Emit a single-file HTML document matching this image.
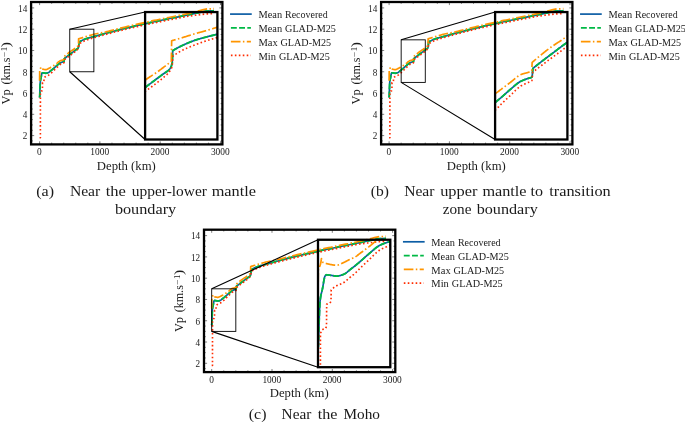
<!DOCTYPE html>
<html lang="en">
<head>
<meta charset="utf-8">
<title>Vp depth profiles</title>
<style>
html,body{margin:0;padding:0;background:#fff;}
body{width:685px;height:422px;overflow:hidden;}
svg{display:block;}
svg text{font-family:'Liberation Serif','DejaVu Serif',serif;fill:#1a1a1a;}
</style>
</head>
<body>
<svg width="685" height="422" viewBox="0 0 685 422">
<rect width="685" height="422" fill="#fff"/>
<g transform="translate(0 0)">
<clipPath id="ca0"><rect x="31.1" y="2" width="191.3" height="142.4"/></clipPath>
<g clip-path="url(#ca0)">
<path d="M39.6 97.51 L39.78 95.7 L39.9 90.91 L39.96 89.07 L40.26 81.87 L40.32 81.37 L40.68 79.2 L41.04 77.74 L41.11 77.4 L41.4 75.72 L41.75 73.79 L41.95 73.25 L42.11 73.06 L42.47 72.82 L42.49 72.82 L42.83 72.84 L43.19 72.89 L43.55 72.95 L43.91 73.01 L44.12 73.04 L44.27 73.06 L44.63 73.11 L44.99 73.17 L45.35 73.22 L45.71 73.25 L45.81 73.25 L46.06 73.24 L46.42 73.19 L46.78 73.12 L47.14 73.02 L47.5 72.91 L47.86 72.78 L48.04 72.72 L48.22 72.65 L48.58 72.46 L48.94 72.22 L49.3 71.95 L49.66 71.65 L50.02 71.35 L50.37 71.05 L50.73 70.76 L50.82 70.7 L51.09 70.49 L51.45 70.22 L51.66 70.06 L51.81 69.94 L52.17 69.65 L52.53 69.36 L52.89 69.06 L53.25 68.75 L53.59 68.46 L53.61 68.45 L53.97 68.14 L54.32 67.82 L54.68 67.5 L55.04 67.17 L55.4 66.85 L55.76 66.53 L56.12 66.21 L56.48 65.9 L56.73 65.7 L56.84 65.6 L57.2 65.29 L57.56 64.98 L57.92 64.66 L58.28 64.35 L58.63 64.05 L58.99 63.77 L59.35 63.5 L59.71 63.26 L60.07 63.05 L60.1 63.04 L60.43 62.87 L60.79 62.71 L61.15 62.55 L61.51 62.41 L61.87 62.28 L62.23 62.15 L62.58 62.03 L62.76 61.97 L62.94 61.91 L63.3 61.82 L63.66 61.71 L63.78 61.65 L64.02 61.44 L64.26 58.67 L64.62 58.38 L64.97 58.1 L65.33 57.81 L65.68 57.53 L66.03 57.25 L66.39 56.97 L66.74 56.69 L66.8 56.65 L67.1 56.42 L67.45 56.14 L67.81 55.88 L68.16 55.61 L68.52 55.34 L68.87 55.08 L69.22 54.81 L69.58 54.54 L69.93 54.28 L70.17 54.1 L70.29 54.01 L70.64 53.74 L71 53.47 L71.35 53.2 L71.71 52.94 L72.06 52.67 L72.41 52.4 L72.77 52.13 L73.12 51.86 L73.48 51.6 L73.55 51.54 L73.83 51.33 L74.19 51.07 L74.54 50.81 L74.9 50.55 L75.25 50.28 L75.54 50.05 L75.6 50 L75.96 49.75 L76.31 49.53 L76.67 49.31 L77.02 49.07 L77.38 48.8 L77.73 48.46 L78.09 48.04 L78.31 47.71 L78.44 47.43 L78.8 46.22 L78.98 42.07 L79.34 41.86 L79.7 41.65 L80.06 41.45 L80.42 41.25 L80.78 41.06 L81.15 40.87 L81.51 40.68 L81.87 40.51 L81.93 40.48 L82.23 40.34 L82.59 40.17 L82.96 40 L83.32 39.84 L83.68 39.68 L84.04 39.52 L84.4 39.37 L84.76 39.22 L85.13 39.08 L85.49 38.94 L85.85 38.81 L86.21 38.68 L86.39 38.62 L86.57 38.56 L86.94 38.44 L87.3 38.32 L87.66 38.22 L88.02 38.11 L88.38 38.01 L88.74 37.91 L89.11 37.81 L89.47 37.71 L89.83 37.61 L90.19 37.52 L90.25 37.5 L90.55 37.42 L90.92 37.33 L91.28 37.24 L91.64 37.15 L92 37.06 L92.36 36.97 L92.72 36.88 L93.09 36.79 L93.45 36.7 L93.63 36.65 L93.81 36.6 L94.17 36.5 L94.53 36.4 L94.9 36.3 L95.26 36.2 L95.62 36.1 L95.98 35.99 L96.34 35.89 L96.7 35.79 L97.07 35.68 L97.43 35.58 L97.79 35.47 L98.15 35.37 L98.51 35.27 L98.87 35.17 L99.24 35.06 L99.6 34.96 L99.9 34.87 L102.31 34.19 L104.72 33.52 L107.14 32.88 L109.55 32.25 L111.96 31.61 L114.37 30.96 L116.78 30.34 L119.2 29.74 L121.61 29.15 L124.02 28.55 L126.43 27.95 L128.84 27.37 L131.26 26.81 L133.67 26.27 L136.08 25.71 L138.49 25.15 L140.9 24.61 L143.32 24.11 L145.73 23.6 L148.14 23.05 L150.55 22.49 L152.96 21.96 L155.38 21.49 L157.79 21.03 L160.2 20.54 L162.61 20.02 L165.02 19.51 L167.44 18.99 L169.85 18.48 L172.26 18 L174.67 17.54 L177.08 17.07 L179.5 16.55 L181.91 16.04 L184.32 15.56 L186.73 15.1 L189.14 14.62 L191.56 14.11 L193.97 13.59 L196.38 13.08 L198.79 12.57 L201.2 12.06 L203.62 11.54 L206.03 11.18 L208.44 11 L210.85 10.9 L213.26 10.75 L213.93 10.69" fill="none" stroke="#0C5DA5" stroke-width="1.7" stroke-linejoin="round"/>
<path d="M39.6 97.51 L39.78 95.7 L39.9 90.91 L39.96 89.07 L40.26 81.87 L40.32 81.37 L40.68 79.2 L41.04 77.74 L41.11 77.4 L41.4 75.72 L41.75 73.79 L41.95 73.25 L42.11 73.06 L42.47 72.82 L42.49 72.82 L42.83 72.84 L43.19 72.89 L43.55 72.95 L43.91 73.01 L44.12 73.04 L44.27 73.06 L44.63 73.11 L44.99 73.17 L45.35 73.22 L45.71 73.25 L45.81 73.25 L46.06 73.24 L46.42 73.19 L46.78 73.12 L47.14 73.02 L47.5 72.91 L47.86 72.78 L48.04 72.72 L48.22 72.65 L48.58 72.46 L48.94 72.22 L49.3 71.95 L49.66 71.65 L50.02 71.35 L50.37 71.05 L50.73 70.76 L50.82 70.7 L51.09 70.49 L51.45 70.22 L51.66 70.06 L51.81 69.94 L52.17 69.65 L52.53 69.36 L52.89 69.06 L53.25 68.75 L53.59 68.46 L53.61 68.45 L53.97 68.14 L54.32 67.82 L54.68 67.5 L55.04 67.17 L55.4 66.85 L55.76 66.53 L56.12 66.21 L56.48 65.9 L56.73 65.7 L56.84 65.6 L57.2 65.29 L57.56 64.98 L57.92 64.66 L58.28 64.35 L58.63 64.05 L58.99 63.77 L59.35 63.5 L59.71 63.26 L60.07 63.05 L60.1 63.04 L60.43 62.87 L60.79 62.71 L61.15 62.55 L61.51 62.41 L61.87 62.28 L62.23 62.15 L62.58 62.03 L62.76 61.97 L62.94 61.91 L63.3 61.82 L63.66 61.71 L63.78 61.65 L64.02 61.44 L64.26 58.67 L64.62 58.38 L64.97 58.1 L65.33 57.81 L65.68 57.53 L66.03 57.25 L66.39 56.97 L66.74 56.69 L66.8 56.65 L67.1 56.42 L67.45 56.14 L67.81 55.88 L68.16 55.61 L68.52 55.34 L68.87 55.08 L69.22 54.81 L69.58 54.54 L69.93 54.28 L70.17 54.1 L70.29 54.01 L70.64 53.74 L71 53.47 L71.35 53.2 L71.71 52.94 L72.06 52.67 L72.41 52.4 L72.77 52.13 L73.12 51.86 L73.48 51.6 L73.55 51.54 L73.83 51.33 L74.19 51.07 L74.54 50.81 L74.9 50.55 L75.25 50.28 L75.54 50.05 L75.6 50 L75.96 49.75 L76.31 49.53 L76.67 49.31 L77.02 49.07 L77.38 48.8 L77.73 48.46 L78.09 48.04 L78.31 47.71 L78.44 47.43 L78.8 46.22 L78.98 42.07 L79.34 41.86 L79.7 41.65 L80.06 41.45 L80.42 41.25 L80.78 41.06 L81.15 40.87 L81.51 40.68 L81.87 40.51 L81.93 40.48 L82.23 40.34 L82.59 40.17 L82.96 40 L83.32 39.84 L83.68 39.68 L84.04 39.52 L84.4 39.37 L84.76 39.22 L85.13 39.08 L85.49 38.94 L85.85 38.81 L86.21 38.68 L86.39 38.62 L86.57 38.56 L86.94 38.44 L87.3 38.32 L87.66 38.22 L88.02 38.11 L88.38 38.01 L88.74 37.91 L89.11 37.81 L89.47 37.71 L89.83 37.61 L90.19 37.52 L90.25 37.5 L90.55 37.42 L90.92 37.33 L91.28 37.24 L91.64 37.15 L92 37.06 L92.36 36.97 L92.72 36.88 L93.09 36.79 L93.45 36.7 L93.63 36.65 L93.81 36.6 L94.17 36.5 L94.53 36.4 L94.9 36.3 L95.26 36.2 L95.62 36.1 L95.98 35.99 L96.34 35.89 L96.7 35.79 L97.07 35.68 L97.43 35.58 L97.79 35.47 L98.15 35.37 L98.51 35.27 L98.87 35.17 L99.24 35.06 L99.6 34.96 L99.9 34.87 L102.31 34.19 L104.72 33.52 L107.14 32.88 L109.55 32.25 L111.96 31.61 L114.37 30.96 L116.78 30.34 L119.2 29.74 L121.61 29.15 L124.02 28.55 L126.43 27.95 L128.84 27.37 L131.26 26.81 L133.67 26.27 L136.08 25.71 L138.49 25.15 L140.9 24.61 L143.32 24.11 L145.73 23.6 L148.14 23.05 L150.55 22.49 L152.96 21.96 L155.38 21.49 L157.79 21.03 L160.2 20.54 L162.61 20.02 L165.02 19.51 L167.44 18.99 L169.85 18.48 L172.26 18 L174.67 17.54 L177.08 17.07 L179.5 16.55 L181.91 16.04 L184.32 15.56 L186.73 15.1 L189.14 14.62 L191.56 14.11 L193.97 13.59 L196.38 13.08 L198.79 12.57 L201.2 12.06 L203.62 11.54 L206.03 11.18 L208.44 11 L210.85 10.9 L213.26 10.75 L213.93 10.69" fill="none" stroke="#00B945" stroke-width="1.85" stroke-dasharray="5.9 2.3" stroke-linejoin="round"/>
<path d="M39.6 80.7 L39.72 70.7 L39.72 70.7 L40.06 70.29 L40.32 69.63 L40.4 69.36 L40.75 67.4 L40.75 67.4 L41.11 68.48 L41.17 68.57 L41.41 68.78 L41.47 68.81 L41.83 68.94 L42.19 69.04 L42.49 69.1 L42.55 69.11 L42.92 69.19 L43.28 69.27 L43.64 69.35 L44 69.43 L44.36 69.49 L44.73 69.55 L45.09 69.59 L45.45 69.62 L45.81 69.63 L46.17 69.59 L46.53 69.49 L46.9 69.34 L47.26 69.16 L47.62 68.98 L47.98 68.81 L48.04 68.78 L48.34 68.64 L48.71 68.47 L49.07 68.28 L49.43 68.09 L49.79 67.89 L50.15 67.71 L50.51 67.53 L50.82 67.4 L50.88 67.37 L51.24 67.24 L51.6 67.11 L51.66 67.08 L51.96 66.91 L52.32 66.67 L52.69 66.4 L53.05 66.11 L53.41 65.83 L53.59 65.7 L53.77 65.56 L54.13 65.3 L54.49 65.03 L54.86 64.76 L55.22 64.49 L55.58 64.22 L55.94 63.94 L56.3 63.67 L56.66 63.4 L56.73 63.35 L57.03 63.12 L57.39 62.83 L57.75 62.52 L58.11 62.21 L58.47 61.91 L58.84 61.62 L59.2 61.35 L59.56 61.11 L59.92 60.89 L60.1 60.8 L60.28 60.72 L60.64 60.58 L61.01 60.46 L61.37 60.36 L61.73 60.26 L62.09 60.17 L62.45 60.07 L62.82 59.95 L63.18 59.82 L63.54 59.65 L63.78 59.52 L63.9 59.42 L64.02 56.65 L64.38 56.34 L64.75 56.03 L65.11 55.72 L65.47 55.41 L65.83 55.11 L66.19 54.81 L66.55 54.51 L66.8 54.31 L66.92 54.21 L67.28 53.92 L67.64 53.62 L68 53.33 L68.36 53.04 L68.72 52.75 L69.09 52.47 L69.45 52.19 L69.75 51.97 L69.81 51.93 L70.17 51.66 L70.53 51.41 L70.9 51.16 L71.26 50.91 L71.62 50.67 L71.98 50.43 L72.22 50.27 L72.34 50.19 L72.7 49.96 L73.07 49.73 L73.43 49.5 L73.55 49.42 L73.79 49.25 L74.15 48.98 L74.51 48.71 L74.88 48.43 L75.24 48.16 L75.54 47.93 L75.6 47.88 L75.96 47.61 L76.32 47.34 L76.68 47.06 L77.05 46.79 L77.41 46.52 L77.77 46.24 L78.13 45.97 L78.49 45.69 L78.61 38.78 L78.97 38.68 L79.33 38.57 L79.69 38.47 L80.04 38.37 L80.4 38.27 L80.76 38.16 L81.12 38.06 L81.47 37.95 L81.83 37.85 L81.93 37.82 L82.19 37.74 L82.55 37.63 L82.9 37.52 L83.26 37.41 L83.62 37.3 L83.98 37.18 L84.33 37.07 L84.69 36.96 L85.05 36.84 L85.41 36.73 L85.76 36.62 L86.12 36.52 L86.39 36.44 L86.48 36.41 L86.84 36.31 L87.19 36.21 L87.55 36.11 L87.91 36.02 L88.27 35.92 L88.62 35.82 L88.98 35.73 L89.34 35.63 L89.7 35.53 L90.05 35.43 L90.25 35.37 L90.41 35.32 L90.77 35.22 L91.13 35.11 L91.48 35 L91.84 34.89 L92.2 34.77 L92.56 34.66 L92.91 34.54 L93.27 34.43 L93.63 34.31 L93.87 34.26 L96.28 33.79 L98.69 33.31 L101.11 32.81 L103.52 32.3 L105.93 31.82 L108.34 31.2 L110.75 30.59 L113.17 29.96 L115.58 29.35 L117.99 28.76 L120.4 28.17 L122.81 27.58 L125.23 26.97 L127.64 26.38 L130.05 25.81 L132.46 25.26 L134.87 24.71 L137.29 24.15 L139.7 23.6 L142.11 23.08 L144.52 22.58 L146.93 22.06 L149.35 21.49 L151.76 20.94 L154.17 20.44 L156.58 19.99 L158.99 19.51 L161.41 19.01 L163.82 18.49 L166.23 17.97 L168.64 17.46 L171.05 16.96 L173.47 16.5 L175.88 16.03 L178.29 15.53 L180.7 15.01 L183.11 14.51 L185.53 14.05 L187.94 13.59 L190.35 13.09 L192.76 12.46 L195.17 11.83 L197.59 11.21 L200 10.58 L202.41 9.93 L204.82 9.34 L207.23 8.94 L209.65 8.86 L212.06 8.78 L213.93 8.66" fill="none" stroke="#FF9500" stroke-width="1.7" stroke-dasharray="9.6 2.4 1.5 2.4" stroke-linejoin="round"/>
<path d="M39.6 137.73 L40.38 137.73 L40.41 93.04 L40.5 92.3 L40.75 91.59 L41.09 91.14 L41.11 91.12 L41.42 90.98 L41.76 90.91 L42.1 90.77 L42.19 90.7 L42.43 89.85 L42.49 82.61 L42.86 82.57 L43.22 82.45 L43.52 82.29 L43.58 82.25 L43.94 81.66 L44 77.93 L44.36 77.57 L44.71 77.24 L45.07 76.94 L45.33 76.76 L45.43 76.7 L45.78 76.5 L46.14 76.33 L46.5 76.18 L46.85 76.04 L47.21 75.9 L47.57 75.74 L47.92 75.55 L48.04 75.48 L48.28 75.33 L48.64 75.08 L48.99 74.8 L49.35 74.5 L49.7 74.19 L50.06 73.88 L50.42 73.57 L50.77 73.28 L50.82 73.25 L51.13 73.02 L51.49 72.75 L51.66 72.61 L51.84 72.45 L52.2 72.12 L52.56 71.76 L52.91 71.39 L53.27 71.02 L53.59 70.7 L53.63 70.66 L53.98 70.32 L54.34 69.97 L54.69 69.63 L55.05 69.29 L55.41 68.95 L55.76 68.62 L56.12 68.28 L56.48 67.95 L56.73 67.72 L56.83 67.62 L57.19 67.27 L57.55 66.92 L57.9 66.56 L58.26 66.2 L58.61 65.86 L58.97 65.52 L59.33 65.21 L59.68 64.93 L60.04 64.67 L60.1 64.63 L60.4 64.45 L60.75 64.25 L61.11 64.07 L61.47 63.9 L61.82 63.74 L62.18 63.58 L62.54 63.42 L62.89 63.26 L63.25 63.1 L63.6 62.92 L63.78 62.82 L63.96 62.72 L64.2 59.95 L64.56 59.67 L64.91 59.39 L65.27 59.11 L65.63 58.83 L65.98 58.55 L66.34 58.28 L66.69 58.01 L66.8 57.93 L67.05 57.73 L67.41 57.47 L67.76 57.2 L68.12 56.93 L68.47 56.67 L68.83 56.4 L69.19 56.14 L69.54 55.88 L69.9 55.61 L69.93 55.59 L70.25 55.35 L70.61 55.09 L70.96 54.83 L71.32 54.57 L71.68 54.32 L72.03 54.06 L72.39 53.8 L72.74 53.54 L73.1 53.27 L73.46 53 L73.55 52.93 L73.81 52.73 L74.17 52.45 L74.52 52.18 L74.88 51.89 L75.24 51.6 L75.54 51.33 L75.59 51.28 L75.95 50.98 L76.3 50.68 L76.66 50.38 L77.02 50.05 L77.37 49.7 L77.73 49.28 L78.08 48.81 L78.31 48.46 L78.44 48.21 L78.8 47.29 L79.04 43.88 L79.4 43.64 L79.76 43.4 L80 43.24 L80.12 43.17 L80.48 42.94 L80.84 42.71 L81.2 42.49 L81.56 42.28 L81.92 42.08 L81.93 42.07 L82.28 41.9 L82.64 41.72 L83 41.56 L83.36 41.39 L83.72 41.23 L84.08 41.08 L84.44 40.93 L84.8 40.79 L85.16 40.64 L85.52 40.5 L85.88 40.36 L86.24 40.22 L86.39 40.16 L86.6 40.08 L86.96 39.94 L87.32 39.8 L87.68 39.67 L88.04 39.54 L88.4 39.41 L88.76 39.28 L89.12 39.15 L89.48 39.03 L89.84 38.91 L90.21 38.79 L90.25 38.78 L90.57 38.67 L90.93 38.56 L91.29 38.45 L91.65 38.34 L92.01 38.23 L92.37 38.12 L92.73 38.02 L93.09 37.92 L93.45 37.82 L93.87 37.71 L96.28 37.04 L98.69 36.35 L101.11 35.67 L103.52 34.99 L105.93 34.34 L108.34 33.71 L110.75 33.08 L113.17 32.44 L115.58 31.8 L117.99 31.19 L120.4 30.61 L122.81 30.02 L125.23 29.42 L127.64 28.83 L130.05 28.26 L132.46 27.72 L134.87 27.17 L137.29 26.61 L139.7 26.06 L142.11 25.54 L144.52 25.04 L146.93 24.53 L149.35 23.97 L151.76 23.41 L154.17 22.92 L156.58 22.47 L158.99 22 L161.41 21.49 L163.82 20.98 L166.23 20.47 L168.64 19.95 L171.05 19.46 L173.47 19.01 L175.88 18.57 L178.29 18.1 L180.7 17.6 L183.11 17.13 L185.53 16.69 L187.94 16.28 L190.35 15.94 L192.76 15.57 L195.17 15.27 L197.59 15.05 L200 14.79 L202.41 14.41 L204.82 14.09 L207.23 13.87 L209.65 13.77 L212.06 13.69 L213.93 13.56" fill="none" stroke="#FF2C00" stroke-width="1.65" stroke-dasharray="1.6 2.35" stroke-linejoin="round"/>
</g>
<path d="M39.6 144.4v-3.1 M39.6 2v3.1 M51.66 144.4v-1.8 M51.66 2v1.8 M63.72 144.4v-1.8 M63.72 2v1.8 M75.78 144.4v-1.8 M75.78 2v1.8 M87.84 144.4v-1.8 M87.84 2v1.8 M99.9 144.4v-3.1 M99.9 2v3.1 M111.96 144.4v-1.8 M111.96 2v1.8 M124.02 144.4v-1.8 M124.02 2v1.8 M136.08 144.4v-1.8 M136.08 2v1.8 M148.14 144.4v-1.8 M148.14 2v1.8 M160.2 144.4v-3.1 M160.2 2v3.1 M172.26 144.4v-1.8 M172.26 2v1.8 M184.32 144.4v-1.8 M184.32 2v1.8 M196.38 144.4v-1.8 M196.38 2v1.8 M208.44 144.4v-1.8 M208.44 2v1.8 M220.5 144.4v-3.1 M220.5 2v3.1 M31.1 140.92h1.8 M222.4 140.92h-1.8 M31.1 135.6h3.1 M222.4 135.6h-3.1 M31.1 130.28h1.8 M222.4 130.28h-1.8 M31.1 124.96h1.8 M222.4 124.96h-1.8 M31.1 119.64h1.8 M222.4 119.64h-1.8 M31.1 114.32h3.1 M222.4 114.32h-3.1 M31.1 109h1.8 M222.4 109h-1.8 M31.1 103.68h1.8 M222.4 103.68h-1.8 M31.1 98.36h1.8 M222.4 98.36h-1.8 M31.1 93.04h3.1 M222.4 93.04h-3.1 M31.1 87.72h1.8 M222.4 87.72h-1.8 M31.1 82.4h1.8 M222.4 82.4h-1.8 M31.1 77.08h1.8 M222.4 77.08h-1.8 M31.1 71.76h3.1 M222.4 71.76h-3.1 M31.1 66.44h1.8 M222.4 66.44h-1.8 M31.1 61.12h1.8 M222.4 61.12h-1.8 M31.1 55.8h1.8 M222.4 55.8h-1.8 M31.1 50.48h3.1 M222.4 50.48h-3.1 M31.1 45.16h1.8 M222.4 45.16h-1.8 M31.1 39.84h1.8 M222.4 39.84h-1.8 M31.1 34.52h1.8 M222.4 34.52h-1.8 M31.1 29.2h3.1 M222.4 29.2h-3.1 M31.1 23.88h1.8 M222.4 23.88h-1.8 M31.1 18.56h1.8 M222.4 18.56h-1.8 M31.1 13.24h1.8 M222.4 13.24h-1.8 M31.1 7.92h3.1 M222.4 7.92h-3.1" stroke="#000" stroke-width="0.5" fill="none"/>
<rect x="69.75" y="29.2" width="24.12" height="42.56" fill="none" stroke="#000" stroke-width="0.9"/>
<path d="M69.75 29.2L145.1 12.05 M69.75 71.76L145.1 139.5" stroke="#000" stroke-width="1.1" fill="none"/>
<rect x="31.1" y="2" width="191.3" height="142.4" fill="none" stroke="#000" stroke-width="2.3"/>
<clipPath id="ci0"><rect x="145.1" y="12.05" width="72.3" height="127.45"/></clipPath>
<g clip-path="url(#ci0)">
<path d="M144.85 87.75 L145.21 87.48 L145.57 87.21 L145.93 86.94 L146.29 86.66 L146.37 86.61 L146.65 86.39 L147.01 86.12 L147.37 85.85 L147.73 85.57 L148.09 85.3 L148.45 85.03 L148.81 84.76 L149.17 84.49 L149.53 84.21 L149.89 83.94 L150.25 83.67 L150.61 83.4 L150.97 83.12 L151.33 82.85 L151.69 82.58 L152.05 82.31 L152.41 82.03 L152.77 81.76 L153.13 81.49 L153.49 81.22 L153.85 80.95 L154.21 80.67 L154.57 80.4 L154.93 80.13 L155.29 79.86 L155.65 79.59 L156.01 79.32 L156.37 79.05 L156.49 78.96 L156.73 78.78 L157.09 78.51 L157.45 78.24 L157.81 77.98 L158.17 77.71 L158.53 77.45 L158.89 77.18 L159.25 76.92 L159.61 76.65 L159.97 76.39 L160.33 76.12 L160.69 75.85 L161.05 75.58 L161.41 75.31 L161.77 75.03 L162.13 74.75 L162.45 74.5 L162.49 74.47 L162.85 74.19 L163.21 73.94 L163.57 73.69 L163.93 73.45 L164.29 73.23 L164.65 73 L165.01 72.78 L165.37 72.56 L165.73 72.34 L166.09 72.11 L166.45 71.87 L166.81 71.62 L167.17 71.36 L167.53 71.09 L167.89 70.79 L168.25 70.48 L168.61 70.14 L168.97 69.78 L169.33 69.38 L169.69 68.96 L170.05 68.5 L170.41 68.01 L170.77 67.49 L170.77 67.48 L171.13 66.7 L171.49 65.59 L171.85 64.31 L172.21 63.03 L172.75 50.6 L173.12 50.39 L173.48 50.18 L173.84 49.97 L174.2 49.76 L174.56 49.55 L174.92 49.35 L175.29 49.14 L175.65 48.94 L176.01 48.74 L176.37 48.53 L176.73 48.33 L177.09 48.14 L177.45 47.94 L177.82 47.75 L178.18 47.55 L178.54 47.36 L178.9 47.17 L179.26 46.99 L179.62 46.8 L179.98 46.62 L180.35 46.44 L180.71 46.26 L181.07 46.08 L181.43 45.91 L181.61 45.82 L181.79 45.74 L182.15 45.57 L182.52 45.4 L182.88 45.23 L183.24 45.06 L183.6 44.89 L183.96 44.73 L184.32 44.56 L184.68 44.4 L185.05 44.23 L185.41 44.07 L185.77 43.91 L186.13 43.75 L186.49 43.59 L186.85 43.43 L187.21 43.27 L187.58 43.12 L187.94 42.96 L188.3 42.81 L188.66 42.66 L189.02 42.51 L189.38 42.36 L189.75 42.21 L190.11 42.07 L190.47 41.92 L190.83 41.78 L191.19 41.64 L191.55 41.5 L191.91 41.36 L192.28 41.22 L192.64 41.09 L193 40.95 L193.36 40.82 L193.72 40.69 L194.08 40.56 L194.44 40.43 L194.81 40.31 L194.99 40.25 L195.17 40.19 L195.53 40.07 L195.89 39.95 L196.25 39.83 L196.61 39.71 L196.98 39.6 L197.34 39.49 L197.7 39.37 L198.06 39.26 L198.42 39.15 L198.78 39.05 L199.14 38.94 L199.51 38.83 L199.87 38.73 L200.23 38.63 L200.59 38.52 L200.95 38.42 L201.31 38.32 L201.67 38.22 L202.04 38.12 L202.4 38.02 L202.76 37.92 L203.12 37.82 L203.48 37.73 L203.84 37.63 L204.21 37.53 L204.57 37.44 L204.93 37.34 L205.29 37.24 L205.65 37.15 L206.01 37.05 L206.37 36.95 L206.56 36.9 L206.74 36.85 L207.1 36.76 L207.46 36.66 L207.82 36.57 L208.18 36.48 L208.54 36.38 L208.9 36.29 L209.27 36.2 L209.63 36.11 L209.99 36.02 L210.35 35.93 L210.71 35.84 L211.07 35.76 L211.44 35.67 L211.8 35.58 L212.16 35.49 L212.52 35.4 L212.88 35.31 L213.24 35.23 L213.6 35.14 L213.97 35.05 L214.33 34.96 L214.69 34.87 L215.05 34.78 L215.41 34.68 L215.77 34.59 L216.13 34.5 L216.5 34.4 L216.68 34.35 L216.86 34.31 L217.22 34.21 L217.58 34.11" fill="none" stroke="#0C5DA5" stroke-width="1.7" stroke-linejoin="round"/>
<path d="M144.85 87.75 L145.21 87.48 L145.57 87.21 L145.93 86.94 L146.29 86.66 L146.37 86.61 L146.65 86.39 L147.01 86.12 L147.37 85.85 L147.73 85.57 L148.09 85.3 L148.45 85.03 L148.81 84.76 L149.17 84.49 L149.53 84.21 L149.89 83.94 L150.25 83.67 L150.61 83.4 L150.97 83.12 L151.33 82.85 L151.69 82.58 L152.05 82.31 L152.41 82.03 L152.77 81.76 L153.13 81.49 L153.49 81.22 L153.85 80.95 L154.21 80.67 L154.57 80.4 L154.93 80.13 L155.29 79.86 L155.65 79.59 L156.01 79.32 L156.37 79.05 L156.49 78.96 L156.73 78.78 L157.09 78.51 L157.45 78.24 L157.81 77.98 L158.17 77.71 L158.53 77.45 L158.89 77.18 L159.25 76.92 L159.61 76.65 L159.97 76.39 L160.33 76.12 L160.69 75.85 L161.05 75.58 L161.41 75.31 L161.77 75.03 L162.13 74.75 L162.45 74.5 L162.49 74.47 L162.85 74.19 L163.21 73.94 L163.57 73.69 L163.93 73.45 L164.29 73.23 L164.65 73 L165.01 72.78 L165.37 72.56 L165.73 72.34 L166.09 72.11 L166.45 71.87 L166.81 71.62 L167.17 71.36 L167.53 71.09 L167.89 70.79 L168.25 70.48 L168.61 70.14 L168.97 69.78 L169.33 69.38 L169.69 68.96 L170.05 68.5 L170.41 68.01 L170.77 67.49 L170.77 67.48 L171.13 66.7 L171.49 65.59 L171.85 64.31 L172.21 63.03 L172.75 50.6 L173.12 50.39 L173.48 50.18 L173.84 49.97 L174.2 49.76 L174.56 49.55 L174.92 49.35 L175.29 49.14 L175.65 48.94 L176.01 48.74 L176.37 48.53 L176.73 48.33 L177.09 48.14 L177.45 47.94 L177.82 47.75 L178.18 47.55 L178.54 47.36 L178.9 47.17 L179.26 46.99 L179.62 46.8 L179.98 46.62 L180.35 46.44 L180.71 46.26 L181.07 46.08 L181.43 45.91 L181.61 45.82 L181.79 45.74 L182.15 45.57 L182.52 45.4 L182.88 45.23 L183.24 45.06 L183.6 44.89 L183.96 44.73 L184.32 44.56 L184.68 44.4 L185.05 44.23 L185.41 44.07 L185.77 43.91 L186.13 43.75 L186.49 43.59 L186.85 43.43 L187.21 43.27 L187.58 43.12 L187.94 42.96 L188.3 42.81 L188.66 42.66 L189.02 42.51 L189.38 42.36 L189.75 42.21 L190.11 42.07 L190.47 41.92 L190.83 41.78 L191.19 41.64 L191.55 41.5 L191.91 41.36 L192.28 41.22 L192.64 41.09 L193 40.95 L193.36 40.82 L193.72 40.69 L194.08 40.56 L194.44 40.43 L194.81 40.31 L194.99 40.25 L195.17 40.19 L195.53 40.07 L195.89 39.95 L196.25 39.83 L196.61 39.71 L196.98 39.6 L197.34 39.49 L197.7 39.37 L198.06 39.26 L198.42 39.15 L198.78 39.05 L199.14 38.94 L199.51 38.83 L199.87 38.73 L200.23 38.63 L200.59 38.52 L200.95 38.42 L201.31 38.32 L201.67 38.22 L202.04 38.12 L202.4 38.02 L202.76 37.92 L203.12 37.82 L203.48 37.73 L203.84 37.63 L204.21 37.53 L204.57 37.44 L204.93 37.34 L205.29 37.24 L205.65 37.15 L206.01 37.05 L206.37 36.95 L206.56 36.9 L206.74 36.85 L207.1 36.76 L207.46 36.66 L207.82 36.57 L208.18 36.48 L208.54 36.38 L208.9 36.29 L209.27 36.2 L209.63 36.11 L209.99 36.02 L210.35 35.93 L210.71 35.84 L211.07 35.76 L211.44 35.67 L211.8 35.58 L212.16 35.49 L212.52 35.4 L212.88 35.31 L213.24 35.23 L213.6 35.14 L213.97 35.05 L214.33 34.96 L214.69 34.87 L215.05 34.78 L215.41 34.68 L215.77 34.59 L216.13 34.5 L216.5 34.4 L216.68 34.35 L216.86 34.31 L217.22 34.21 L217.58 34.11" fill="none" stroke="#00B945" stroke-width="1.85" stroke-dasharray="5.9 2.3" stroke-linejoin="round"/>
<path d="M144.92 80.37 L145.1 80.24 L145.28 80.1 L145.64 79.84 L146 79.58 L146.37 79.32 L146.73 79.06 L147.09 78.81 L147.45 78.55 L147.81 78.3 L148.17 78.05 L148.53 77.8 L148.9 77.56 L149.26 77.31 L149.62 77.07 L149.98 76.82 L150.34 76.58 L150.7 76.34 L151.06 76.1 L151.43 75.86 L151.79 75.62 L152.15 75.38 L152.51 75.14 L152.87 74.9 L153.23 74.67 L153.6 74.44 L153.96 74.21 L154.32 73.99 L154.68 73.76 L155.04 73.54 L155.4 73.31 L155.76 73.07 L156.13 72.83 L156.49 72.59 L156.85 72.34 L157.21 72.08 L157.57 71.82 L157.93 71.56 L158.29 71.29 L158.66 71.02 L159.02 70.75 L159.38 70.48 L159.74 70.2 L160.1 69.92 L160.46 69.65 L160.83 69.37 L161.19 69.09 L161.55 68.81 L161.91 68.54 L162.27 68.26 L162.45 68.13 L162.63 67.99 L162.99 67.72 L163.36 67.45 L163.72 67.18 L164.08 66.9 L164.44 66.63 L164.8 66.36 L165.16 66.09 L165.52 65.82 L165.89 65.54 L166.25 65.27 L166.61 65 L166.97 64.72 L167.33 64.45 L167.69 64.18 L168.06 63.9 L168.42 63.63 L168.78 63.36 L169.14 63.08 L169.5 62.81 L169.86 62.53 L170.22 62.26 L170.59 61.99 L170.95 61.71 L171.31 61.44 L171.67 40.73 L172.03 40.63 L172.39 40.52 L172.75 40.42 L173.11 40.32 L173.47 40.22 L173.83 40.12 L174.19 40.02 L174.55 39.91 L174.91 39.81 L175.27 39.71 L175.63 39.61 L175.99 39.5 L176.35 39.4 L176.71 39.3 L177.07 39.19 L177.43 39.09 L177.79 38.98 L178.15 38.88 L178.51 38.77 L178.87 38.67 L179.23 38.56 L179.59 38.46 L179.95 38.35 L180.31 38.24 L180.67 38.14 L181.03 38.03 L181.39 37.92 L181.61 37.86 L181.75 37.82 L182.11 37.71 L182.47 37.6 L182.83 37.49 L183.19 37.38 L183.55 37.27 L183.91 37.16 L184.27 37.05 L184.63 36.93 L184.99 36.82 L185.35 36.71 L185.71 36.6 L186.07 36.48 L186.43 36.37 L186.79 36.25 L187.15 36.14 L187.51 36.03 L187.87 35.91 L188.23 35.8 L188.59 35.68 L188.95 35.57 L189.31 35.45 L189.67 35.34 L190.03 35.23 L190.39 35.11 L190.75 35 L191.11 34.89 L191.47 34.78 L191.83 34.67 L192.19 34.55 L192.55 34.44 L192.91 34.33 L193.27 34.23 L193.63 34.12 L193.99 34.01 L194.35 33.9 L194.71 33.8 L194.99 33.72 L195.07 33.69 L195.43 33.59 L195.79 33.48 L196.15 33.38 L196.51 33.28 L196.87 33.18 L197.23 33.08 L197.59 32.98 L197.95 32.88 L198.31 32.79 L198.67 32.69 L199.03 32.59 L199.39 32.5 L199.75 32.4 L200.11 32.3 L200.47 32.21 L200.83 32.11 L201.19 32.01 L201.55 31.92 L201.91 31.82 L202.27 31.73 L202.63 31.63 L202.99 31.53 L203.36 31.43 L203.72 31.33 L204.08 31.24 L204.44 31.14 L204.8 31.04 L205.16 30.93 L205.52 30.83 L205.88 30.73 L206.24 30.62 L206.56 30.53 L206.6 30.52 L206.96 30.41 L207.32 30.31 L207.68 30.2 L208.04 30.09 L208.4 29.98 L208.76 29.87 L209.12 29.76 L209.48 29.65 L209.84 29.54 L210.2 29.43 L210.56 29.32 L210.92 29.21 L211.28 29.09 L211.64 28.98 L212 28.87 L212.36 28.75 L212.72 28.64 L213.08 28.52 L213.44 28.41 L213.8 28.29 L214.16 28.17 L214.52 28.06 L214.88 27.94 L215.24 27.82 L215.6 27.7 L215.96 27.58 L216.32 27.46 L216.68 27.34 L217.4 27.21 L224.63 25.8" fill="none" stroke="#FF9500" stroke-width="1.7" stroke-dasharray="9.6 2.4 1.5 2.4" stroke-linejoin="round"/>
<path d="M144.74 91.74 L145.1 91.47 L145.46 91.2 L145.64 91.07 L145.82 90.94 L146.18 90.67 L146.55 90.4 L146.91 90.14 L147.27 89.87 L147.63 89.61 L147.99 89.35 L148.35 89.09 L148.72 88.82 L149.08 88.56 L149.44 88.3 L149.8 88.04 L150.16 87.78 L150.52 87.52 L150.88 87.26 L151.25 87 L151.61 86.73 L151.97 86.47 L152.33 86.21 L152.69 85.94 L153.05 85.68 L153.41 85.41 L153.78 85.15 L154.14 84.88 L154.5 84.61 L154.86 84.34 L155.22 84.07 L155.58 83.79 L155.94 83.52 L156.31 83.24 L156.49 83.1 L156.67 82.96 L157.03 82.69 L157.39 82.41 L157.75 82.13 L158.11 81.86 L158.48 81.58 L158.84 81.3 L159.2 81.02 L159.56 80.74 L159.92 80.45 L160.28 80.16 L160.64 79.87 L161.01 79.57 L161.37 79.27 L161.73 78.96 L162.09 78.64 L162.45 78.32 L162.81 78 L163.18 77.69 L163.54 77.38 L163.9 77.08 L164.26 76.78 L164.62 76.48 L164.98 76.18 L165.34 75.87 L165.71 75.56 L166.07 75.25 L166.43 74.92 L166.79 74.59 L167.15 74.24 L167.51 73.88 L167.87 73.5 L168.24 73.11 L168.6 72.69 L168.96 72.26 L169.32 71.8 L169.68 71.32 L170.04 70.82 L170.41 70.28 L170.77 69.72 L171.13 69.03 L171.49 68.15 L171.85 67.19 L172.21 66.22 L172.94 56.02 L173.3 55.78 L173.66 55.53 L174.02 55.29 L174.38 55.05 L174.74 54.81 L175.1 54.58 L175.46 54.35 L175.82 54.12 L175.83 54.11 L176.18 53.89 L176.54 53.66 L176.9 53.43 L177.26 53.19 L177.62 52.96 L177.98 52.74 L178.34 52.51 L178.7 52.28 L179.06 52.06 L179.42 51.84 L179.78 51.63 L180.14 51.41 L180.5 51.21 L180.86 51.01 L181.22 50.81 L181.58 50.62 L181.61 50.6 L181.94 50.44 L182.3 50.26 L182.66 50.08 L183.02 49.9 L183.38 49.73 L183.74 49.55 L184.1 49.38 L184.46 49.22 L184.82 49.05 L185.18 48.89 L185.54 48.72 L185.9 48.56 L186.26 48.4 L186.62 48.25 L186.98 48.09 L187.34 47.93 L187.7 47.78 L188.06 47.63 L188.42 47.48 L188.78 47.33 L189.14 47.18 L189.5 47.04 L189.86 46.89 L190.22 46.74 L190.58 46.6 L190.94 46.46 L191.3 46.31 L191.66 46.17 L192.02 46.03 L192.38 45.89 L192.74 45.75 L193.1 45.61 L193.46 45.46 L193.82 45.32 L194.18 45.18 L194.54 45.04 L194.9 44.9 L194.99 44.87 L195.26 44.76 L195.62 44.62 L195.98 44.49 L196.34 44.35 L196.7 44.21 L197.06 44.07 L197.42 43.94 L197.78 43.8 L198.14 43.67 L198.5 43.53 L198.86 43.4 L199.22 43.27 L199.58 43.14 L199.94 43.01 L200.3 42.88 L200.66 42.75 L201.02 42.62 L201.38 42.49 L201.74 42.36 L202.09 42.23 L202.45 42.11 L202.81 41.98 L203.17 41.86 L203.53 41.74 L203.89 41.61 L204.25 41.49 L204.61 41.37 L204.97 41.25 L205.33 41.13 L205.69 41.01 L206.05 40.89 L206.41 40.77 L206.56 40.73 L206.77 40.65 L207.13 40.54 L207.49 40.42 L207.85 40.31 L208.21 40.19 L208.57 40.08 L208.93 39.97 L209.29 39.86 L209.65 39.74 L210.01 39.63 L210.37 39.52 L210.73 39.41 L211.09 39.3 L211.45 39.2 L211.81 39.09 L212.17 38.98 L212.53 38.88 L212.89 38.77 L213.25 38.67 L213.61 38.56 L213.97 38.46 L214.33 38.36 L214.69 38.26 L215.05 38.16 L215.41 38.06 L215.77 37.96 L216.13 37.86 L217.4 37.54 L224.63 35.52" fill="none" stroke="#FF2C00" stroke-width="1.65" stroke-dasharray="1.6 2.35" stroke-linejoin="round"/>
</g>
<rect x="145.1" y="12.05" width="72.3" height="127.45" fill="none" stroke="#000" stroke-width="2.3"/>
<text x="27.3" y="139.4" font-size="9.3" text-anchor="end" textLength="4.6" lengthAdjust="spacingAndGlyphs">2</text>
<text x="27.3" y="118.12" font-size="9.3" text-anchor="end" textLength="4.6" lengthAdjust="spacingAndGlyphs">4</text>
<text x="27.3" y="96.84" font-size="9.3" text-anchor="end" textLength="4.6" lengthAdjust="spacingAndGlyphs">6</text>
<text x="27.3" y="75.56" font-size="9.3" text-anchor="end" textLength="4.6" lengthAdjust="spacingAndGlyphs">8</text>
<text x="27.3" y="54.28" font-size="9.3" text-anchor="end" textLength="9.2" lengthAdjust="spacingAndGlyphs">10</text>
<text x="27.3" y="33" font-size="9.3" text-anchor="end" textLength="9.2" lengthAdjust="spacingAndGlyphs">12</text>
<text x="27.3" y="11.72" font-size="9.3" text-anchor="end" textLength="9.2" lengthAdjust="spacingAndGlyphs">14</text>
<text x="39.4" y="155" font-size="9.3" text-anchor="middle" textLength="4.7" lengthAdjust="spacingAndGlyphs">0</text>
<text x="99.7" y="155" font-size="9.3" text-anchor="middle" textLength="18.8" lengthAdjust="spacingAndGlyphs">1000</text>
<text x="160" y="155" font-size="9.3" text-anchor="middle" textLength="18.8" lengthAdjust="spacingAndGlyphs">2000</text>
<text x="220.3" y="155" font-size="9.3" text-anchor="middle" textLength="18.8" lengthAdjust="spacingAndGlyphs">3000</text>
<text x="126.3" y="169.6" font-size="12.8" text-anchor="middle" textLength="59" lengthAdjust="spacingAndGlyphs">Depth (km)</text>
<g transform="translate(9.6 103.8) rotate(-90)">
<text x="-0.61" y="0" font-size="11.8" text-anchor="start" textLength="15.15" lengthAdjust="spacingAndGlyphs">Vp</text>
<text x="19.19" y="0" font-size="11.8" text-anchor="start" textLength="27.15" lengthAdjust="spacingAndGlyphs">(km.s</text>
<text x="46.7" y="-3" font-size="8.5" text-anchor="start" textLength="10.47" lengthAdjust="spacingAndGlyphs">−1</text>
<text x="56.59" y="0" font-size="11.8" text-anchor="start" textLength="5.25" lengthAdjust="spacingAndGlyphs">)</text>
</g>
<path d="M230.9 14.1H250.9" stroke="#0C5DA5" stroke-width="1.7" stroke-linecap="square" fill="none"/>
<text x="258.46" y="18.3" font-size="9.7" text-anchor="start" textLength="23.63" lengthAdjust="spacingAndGlyphs">Mean</text>
<text x="285.06" y="18.3" font-size="9.7" text-anchor="start" textLength="42.63" lengthAdjust="spacingAndGlyphs">Recovered</text>
<path d="M230.9 27.9H250.9" stroke="#00B945" stroke-width="1.85" stroke-dasharray="5.9 2.3" fill="none"/>
<text x="258.46" y="32.1" font-size="9.7" text-anchor="start" textLength="23.63" lengthAdjust="spacingAndGlyphs">Mean</text>
<text x="285.06" y="32.1" font-size="9.7" text-anchor="start" textLength="50.83" lengthAdjust="spacingAndGlyphs">GLAD-M25</text>
<path d="M230.9 41.7H250.9" stroke="#FF9500" stroke-width="1.7" stroke-dasharray="9.6 2.4 1.5 2.4" fill="none"/>
<text x="258.46" y="45.9" font-size="9.7" text-anchor="start" textLength="19.33" lengthAdjust="spacingAndGlyphs">Max</text>
<text x="280.56" y="45.9" font-size="9.7" text-anchor="start" textLength="50.63" lengthAdjust="spacingAndGlyphs">GLAD-M25</text>
<path d="M230.9 55.4H250.9" stroke="#FF2C00" stroke-width="1.65" stroke-dasharray="1.6 2.35" fill="none"/>
<text x="258.46" y="59.6" font-size="9.7" text-anchor="start" textLength="17.53" lengthAdjust="spacingAndGlyphs">Min</text>
<text x="278.96" y="59.6" font-size="9.7" text-anchor="start" textLength="50.83" lengthAdjust="spacingAndGlyphs">GLAD-M25</text>
</g>
<g transform="translate(350 0)">
<clipPath id="ca1"><rect x="31.1" y="2" width="191.3" height="142.4"/></clipPath>
<g clip-path="url(#ca1)">
<path d="M39.1 97.51 L39.28 95.7 L39.4 90.91 L39.46 89.07 L39.76 81.87 L39.82 81.37 L40.18 79.2 L40.54 77.74 L40.61 77.4 L40.9 75.72 L41.25 73.79 L41.45 73.25 L41.61 73.06 L41.97 72.82 L41.99 72.82 L42.33 72.84 L42.69 72.89 L43.05 72.95 L43.41 73.01 L43.62 73.04 L43.77 73.06 L44.13 73.11 L44.49 73.17 L44.85 73.22 L45.21 73.25 L45.31 73.25 L45.56 73.24 L45.92 73.19 L46.28 73.12 L46.64 73.02 L47 72.91 L47.36 72.78 L47.54 72.72 L47.72 72.65 L48.08 72.46 L48.44 72.22 L48.8 71.95 L49.16 71.65 L49.52 71.35 L49.87 71.05 L50.23 70.76 L50.32 70.7 L50.59 70.49 L50.95 70.22 L51.16 70.06 L51.31 69.94 L51.67 69.65 L52.03 69.36 L52.39 69.06 L52.75 68.75 L53.09 68.46 L53.11 68.45 L53.47 68.14 L53.82 67.82 L54.18 67.5 L54.54 67.17 L54.9 66.85 L55.26 66.53 L55.62 66.21 L55.98 65.9 L56.23 65.7 L56.34 65.6 L56.7 65.29 L57.06 64.98 L57.42 64.66 L57.78 64.35 L58.13 64.05 L58.49 63.77 L58.85 63.5 L59.21 63.26 L59.57 63.05 L59.6 63.04 L59.93 62.87 L60.29 62.71 L60.65 62.55 L61.01 62.41 L61.37 62.28 L61.73 62.15 L62.08 62.03 L62.26 61.97 L62.44 61.91 L62.8 61.82 L63.16 61.71 L63.28 61.65 L63.52 61.44 L63.76 58.67 L64.12 58.38 L64.47 58.1 L64.83 57.81 L65.18 57.53 L65.53 57.25 L65.89 56.97 L66.24 56.69 L66.3 56.65 L66.6 56.42 L66.95 56.14 L67.31 55.88 L67.66 55.61 L68.02 55.34 L68.37 55.08 L68.72 54.81 L69.08 54.54 L69.43 54.28 L69.67 54.1 L69.79 54.01 L70.14 53.74 L70.5 53.47 L70.85 53.2 L71.21 52.94 L71.56 52.67 L71.91 52.4 L72.27 52.13 L72.62 51.86 L72.98 51.6 L73.05 51.54 L73.33 51.33 L73.69 51.07 L74.04 50.81 L74.4 50.55 L74.75 50.28 L75.04 50.05 L75.1 50 L75.46 49.75 L75.81 49.53 L76.17 49.31 L76.52 49.07 L76.88 48.8 L77.23 48.46 L77.59 48.04 L77.81 47.71 L77.94 47.43 L78.3 46.22 L78.48 42.07 L78.84 41.86 L79.2 41.65 L79.56 41.45 L79.92 41.25 L80.28 41.06 L80.65 40.87 L81.01 40.68 L81.37 40.51 L81.43 40.48 L81.73 40.34 L82.09 40.17 L82.46 40 L82.82 39.84 L83.18 39.68 L83.54 39.52 L83.9 39.37 L84.26 39.22 L84.63 39.08 L84.99 38.94 L85.35 38.81 L85.71 38.68 L85.89 38.62 L86.07 38.56 L86.44 38.44 L86.8 38.32 L87.16 38.22 L87.52 38.11 L87.88 38.01 L88.24 37.91 L88.61 37.81 L88.97 37.71 L89.33 37.61 L89.69 37.52 L89.75 37.5 L90.05 37.42 L90.42 37.33 L90.78 37.24 L91.14 37.15 L91.5 37.06 L91.86 36.97 L92.22 36.88 L92.59 36.79 L92.95 36.7 L93.13 36.65 L93.31 36.6 L93.67 36.5 L94.03 36.4 L94.4 36.3 L94.76 36.2 L95.12 36.1 L95.48 35.99 L95.84 35.89 L96.2 35.79 L96.57 35.68 L96.93 35.58 L97.29 35.47 L97.65 35.37 L98.01 35.27 L98.37 35.17 L98.74 35.06 L99.1 34.96 L99.4 34.87 L101.81 34.19 L104.22 33.52 L106.64 32.88 L109.05 32.25 L111.46 31.61 L113.87 30.96 L116.28 30.34 L118.7 29.74 L121.11 29.15 L123.52 28.55 L125.93 27.95 L128.34 27.37 L130.76 26.81 L133.17 26.27 L135.58 25.71 L137.99 25.15 L140.4 24.61 L142.82 24.11 L145.23 23.6 L147.64 23.05 L150.05 22.49 L152.46 21.96 L154.88 21.49 L157.29 21.03 L159.7 20.54 L162.11 20.02 L164.52 19.51 L166.94 18.99 L169.35 18.48 L171.76 18 L174.17 17.54 L176.58 17.07 L179 16.55 L181.41 16.04 L183.82 15.56 L186.23 15.1 L188.64 14.62 L191.06 14.11 L193.47 13.59 L195.88 13.08 L198.29 12.57 L200.7 12.06 L203.12 11.54 L205.53 11.18 L207.94 11 L210.35 10.9 L212.76 10.75 L213.43 10.69" fill="none" stroke="#0C5DA5" stroke-width="1.7" stroke-linejoin="round"/>
<path d="M39.1 97.51 L39.28 95.7 L39.4 90.91 L39.46 89.07 L39.76 81.87 L39.82 81.37 L40.18 79.2 L40.54 77.74 L40.61 77.4 L40.9 75.72 L41.25 73.79 L41.45 73.25 L41.61 73.06 L41.97 72.82 L41.99 72.82 L42.33 72.84 L42.69 72.89 L43.05 72.95 L43.41 73.01 L43.62 73.04 L43.77 73.06 L44.13 73.11 L44.49 73.17 L44.85 73.22 L45.21 73.25 L45.31 73.25 L45.56 73.24 L45.92 73.19 L46.28 73.12 L46.64 73.02 L47 72.91 L47.36 72.78 L47.54 72.72 L47.72 72.65 L48.08 72.46 L48.44 72.22 L48.8 71.95 L49.16 71.65 L49.52 71.35 L49.87 71.05 L50.23 70.76 L50.32 70.7 L50.59 70.49 L50.95 70.22 L51.16 70.06 L51.31 69.94 L51.67 69.65 L52.03 69.36 L52.39 69.06 L52.75 68.75 L53.09 68.46 L53.11 68.45 L53.47 68.14 L53.82 67.82 L54.18 67.5 L54.54 67.17 L54.9 66.85 L55.26 66.53 L55.62 66.21 L55.98 65.9 L56.23 65.7 L56.34 65.6 L56.7 65.29 L57.06 64.98 L57.42 64.66 L57.78 64.35 L58.13 64.05 L58.49 63.77 L58.85 63.5 L59.21 63.26 L59.57 63.05 L59.6 63.04 L59.93 62.87 L60.29 62.71 L60.65 62.55 L61.01 62.41 L61.37 62.28 L61.73 62.15 L62.08 62.03 L62.26 61.97 L62.44 61.91 L62.8 61.82 L63.16 61.71 L63.28 61.65 L63.52 61.44 L63.76 58.67 L64.12 58.38 L64.47 58.1 L64.83 57.81 L65.18 57.53 L65.53 57.25 L65.89 56.97 L66.24 56.69 L66.3 56.65 L66.6 56.42 L66.95 56.14 L67.31 55.88 L67.66 55.61 L68.02 55.34 L68.37 55.08 L68.72 54.81 L69.08 54.54 L69.43 54.28 L69.67 54.1 L69.79 54.01 L70.14 53.74 L70.5 53.47 L70.85 53.2 L71.21 52.94 L71.56 52.67 L71.91 52.4 L72.27 52.13 L72.62 51.86 L72.98 51.6 L73.05 51.54 L73.33 51.33 L73.69 51.07 L74.04 50.81 L74.4 50.55 L74.75 50.28 L75.04 50.05 L75.1 50 L75.46 49.75 L75.81 49.53 L76.17 49.31 L76.52 49.07 L76.88 48.8 L77.23 48.46 L77.59 48.04 L77.81 47.71 L77.94 47.43 L78.3 46.22 L78.48 42.07 L78.84 41.86 L79.2 41.65 L79.56 41.45 L79.92 41.25 L80.28 41.06 L80.65 40.87 L81.01 40.68 L81.37 40.51 L81.43 40.48 L81.73 40.34 L82.09 40.17 L82.46 40 L82.82 39.84 L83.18 39.68 L83.54 39.52 L83.9 39.37 L84.26 39.22 L84.63 39.08 L84.99 38.94 L85.35 38.81 L85.71 38.68 L85.89 38.62 L86.07 38.56 L86.44 38.44 L86.8 38.32 L87.16 38.22 L87.52 38.11 L87.88 38.01 L88.24 37.91 L88.61 37.81 L88.97 37.71 L89.33 37.61 L89.69 37.52 L89.75 37.5 L90.05 37.42 L90.42 37.33 L90.78 37.24 L91.14 37.15 L91.5 37.06 L91.86 36.97 L92.22 36.88 L92.59 36.79 L92.95 36.7 L93.13 36.65 L93.31 36.6 L93.67 36.5 L94.03 36.4 L94.4 36.3 L94.76 36.2 L95.12 36.1 L95.48 35.99 L95.84 35.89 L96.2 35.79 L96.57 35.68 L96.93 35.58 L97.29 35.47 L97.65 35.37 L98.01 35.27 L98.37 35.17 L98.74 35.06 L99.1 34.96 L99.4 34.87 L101.81 34.19 L104.22 33.52 L106.64 32.88 L109.05 32.25 L111.46 31.61 L113.87 30.96 L116.28 30.34 L118.7 29.74 L121.11 29.15 L123.52 28.55 L125.93 27.95 L128.34 27.37 L130.76 26.81 L133.17 26.27 L135.58 25.71 L137.99 25.15 L140.4 24.61 L142.82 24.11 L145.23 23.6 L147.64 23.05 L150.05 22.49 L152.46 21.96 L154.88 21.49 L157.29 21.03 L159.7 20.54 L162.11 20.02 L164.52 19.51 L166.94 18.99 L169.35 18.48 L171.76 18 L174.17 17.54 L176.58 17.07 L179 16.55 L181.41 16.04 L183.82 15.56 L186.23 15.1 L188.64 14.62 L191.06 14.11 L193.47 13.59 L195.88 13.08 L198.29 12.57 L200.7 12.06 L203.12 11.54 L205.53 11.18 L207.94 11 L210.35 10.9 L212.76 10.75 L213.43 10.69" fill="none" stroke="#00B945" stroke-width="1.85" stroke-dasharray="5.9 2.3" stroke-linejoin="round"/>
<path d="M39.1 80.7 L39.22 70.7 L39.22 70.7 L39.56 70.29 L39.82 69.63 L39.9 69.36 L40.25 67.4 L40.25 67.4 L40.61 68.48 L40.67 68.57 L40.91 68.78 L40.97 68.81 L41.33 68.94 L41.69 69.04 L41.99 69.1 L42.05 69.11 L42.42 69.19 L42.78 69.27 L43.14 69.35 L43.5 69.43 L43.86 69.49 L44.23 69.55 L44.59 69.59 L44.95 69.62 L45.31 69.63 L45.67 69.59 L46.03 69.49 L46.4 69.34 L46.76 69.16 L47.12 68.98 L47.48 68.81 L47.54 68.78 L47.84 68.64 L48.21 68.47 L48.57 68.28 L48.93 68.09 L49.29 67.89 L49.65 67.71 L50.01 67.53 L50.32 67.4 L50.38 67.37 L50.74 67.24 L51.1 67.11 L51.16 67.08 L51.46 66.91 L51.82 66.67 L52.19 66.4 L52.55 66.11 L52.91 65.83 L53.09 65.7 L53.27 65.56 L53.63 65.3 L53.99 65.03 L54.36 64.76 L54.72 64.49 L55.08 64.22 L55.44 63.94 L55.8 63.67 L56.16 63.4 L56.23 63.35 L56.53 63.12 L56.89 62.83 L57.25 62.52 L57.61 62.21 L57.97 61.91 L58.34 61.62 L58.7 61.35 L59.06 61.11 L59.42 60.89 L59.6 60.8 L59.78 60.72 L60.14 60.58 L60.51 60.46 L60.87 60.36 L61.23 60.26 L61.59 60.17 L61.95 60.07 L62.32 59.95 L62.68 59.82 L63.04 59.65 L63.28 59.52 L63.4 59.42 L63.52 56.65 L63.88 56.34 L64.25 56.03 L64.61 55.72 L64.97 55.41 L65.33 55.11 L65.69 54.81 L66.05 54.51 L66.3 54.31 L66.42 54.21 L66.78 53.92 L67.14 53.62 L67.5 53.33 L67.86 53.04 L68.22 52.75 L68.59 52.47 L68.95 52.19 L69.25 51.97 L69.31 51.93 L69.67 51.66 L70.03 51.41 L70.4 51.16 L70.76 50.91 L71.12 50.67 L71.48 50.43 L71.72 50.27 L71.84 50.19 L72.2 49.96 L72.57 49.73 L72.93 49.5 L73.05 49.42 L73.29 49.25 L73.65 48.98 L74.01 48.71 L74.38 48.43 L74.74 48.16 L75.04 47.93 L75.1 47.88 L75.46 47.61 L75.82 47.34 L76.18 47.06 L76.55 46.79 L76.91 46.52 L77.27 46.24 L77.63 45.97 L77.99 45.69 L78.11 38.78 L78.47 38.68 L78.83 38.57 L79.19 38.47 L79.54 38.37 L79.9 38.27 L80.26 38.16 L80.62 38.06 L80.97 37.95 L81.33 37.85 L81.43 37.82 L81.69 37.74 L82.05 37.63 L82.4 37.52 L82.76 37.41 L83.12 37.3 L83.48 37.18 L83.83 37.07 L84.19 36.96 L84.55 36.84 L84.91 36.73 L85.26 36.62 L85.62 36.52 L85.89 36.44 L85.98 36.41 L86.34 36.31 L86.69 36.21 L87.05 36.11 L87.41 36.02 L87.77 35.92 L88.12 35.82 L88.48 35.73 L88.84 35.63 L89.2 35.53 L89.55 35.43 L89.75 35.37 L89.91 35.32 L90.27 35.22 L90.63 35.11 L90.98 35 L91.34 34.89 L91.7 34.77 L92.06 34.66 L92.41 34.54 L92.77 34.43 L93.13 34.31 L93.37 34.26 L95.78 33.79 L98.19 33.31 L100.61 32.81 L103.02 32.3 L105.43 31.82 L107.84 31.2 L110.25 30.59 L112.67 29.96 L115.08 29.35 L117.49 28.76 L119.9 28.17 L122.31 27.58 L124.73 26.97 L127.14 26.38 L129.55 25.81 L131.96 25.26 L134.37 24.71 L136.79 24.15 L139.2 23.6 L141.61 23.08 L144.02 22.58 L146.43 22.06 L148.85 21.49 L151.26 20.94 L153.67 20.44 L156.08 19.99 L158.49 19.51 L160.91 19.01 L163.32 18.49 L165.73 17.97 L168.14 17.46 L170.55 16.96 L172.97 16.5 L175.38 16.03 L177.79 15.53 L180.2 15.01 L182.61 14.51 L185.03 14.05 L187.44 13.59 L189.85 13.09 L192.26 12.46 L194.67 11.83 L197.09 11.21 L199.5 10.58 L201.91 9.93 L204.32 9.34 L206.73 8.94 L209.15 8.86 L211.56 8.78 L213.43 8.66" fill="none" stroke="#FF9500" stroke-width="1.7" stroke-dasharray="9.6 2.4 1.5 2.4" stroke-linejoin="round"/>
<path d="M39.1 137.73 L39.88 137.73 L39.91 93.04 L40 92.3 L40.25 91.59 L40.59 91.14 L40.61 91.12 L40.92 90.98 L41.26 90.91 L41.6 90.77 L41.69 90.7 L41.93 89.85 L41.99 82.61 L42.36 82.57 L42.72 82.45 L43.02 82.29 L43.08 82.25 L43.44 81.66 L43.5 77.93 L43.86 77.57 L44.21 77.24 L44.57 76.94 L44.83 76.76 L44.93 76.7 L45.28 76.5 L45.64 76.33 L46 76.18 L46.35 76.04 L46.71 75.9 L47.07 75.74 L47.42 75.55 L47.54 75.48 L47.78 75.33 L48.14 75.08 L48.49 74.8 L48.85 74.5 L49.2 74.19 L49.56 73.88 L49.92 73.57 L50.27 73.28 L50.32 73.25 L50.63 73.02 L50.99 72.75 L51.16 72.61 L51.34 72.45 L51.7 72.12 L52.06 71.76 L52.41 71.39 L52.77 71.02 L53.09 70.7 L53.13 70.66 L53.48 70.32 L53.84 69.97 L54.19 69.63 L54.55 69.29 L54.91 68.95 L55.26 68.62 L55.62 68.28 L55.98 67.95 L56.23 67.72 L56.33 67.62 L56.69 67.27 L57.05 66.92 L57.4 66.56 L57.76 66.2 L58.11 65.86 L58.47 65.52 L58.83 65.21 L59.18 64.93 L59.54 64.67 L59.6 64.63 L59.9 64.45 L60.25 64.25 L60.61 64.07 L60.97 63.9 L61.32 63.74 L61.68 63.58 L62.04 63.42 L62.39 63.26 L62.75 63.1 L63.1 62.92 L63.28 62.82 L63.46 62.72 L63.7 59.95 L64.06 59.67 L64.41 59.39 L64.77 59.11 L65.13 58.83 L65.48 58.55 L65.84 58.28 L66.19 58.01 L66.3 57.93 L66.55 57.73 L66.91 57.47 L67.26 57.2 L67.62 56.93 L67.97 56.67 L68.33 56.4 L68.69 56.14 L69.04 55.88 L69.4 55.61 L69.43 55.59 L69.75 55.35 L70.11 55.09 L70.46 54.83 L70.82 54.57 L71.18 54.32 L71.53 54.06 L71.89 53.8 L72.24 53.54 L72.6 53.27 L72.96 53 L73.05 52.93 L73.31 52.73 L73.67 52.45 L74.02 52.18 L74.38 51.89 L74.74 51.6 L75.04 51.33 L75.09 51.28 L75.45 50.98 L75.8 50.68 L76.16 50.38 L76.52 50.05 L76.87 49.7 L77.23 49.28 L77.58 48.81 L77.81 48.46 L77.94 48.21 L78.3 47.29 L78.54 43.88 L78.9 43.64 L79.26 43.4 L79.5 43.24 L79.62 43.17 L79.98 42.94 L80.34 42.71 L80.7 42.49 L81.06 42.28 L81.42 42.08 L81.43 42.07 L81.78 41.9 L82.14 41.72 L82.5 41.56 L82.86 41.39 L83.22 41.23 L83.58 41.08 L83.94 40.93 L84.3 40.79 L84.66 40.64 L85.02 40.5 L85.38 40.36 L85.74 40.22 L85.89 40.16 L86.1 40.08 L86.46 39.94 L86.82 39.8 L87.18 39.67 L87.54 39.54 L87.9 39.41 L88.26 39.28 L88.62 39.15 L88.98 39.03 L89.34 38.91 L89.71 38.79 L89.75 38.78 L90.07 38.67 L90.43 38.56 L90.79 38.45 L91.15 38.34 L91.51 38.23 L91.87 38.12 L92.23 38.02 L92.59 37.92 L92.95 37.82 L93.37 37.71 L95.78 37.04 L98.19 36.35 L100.61 35.67 L103.02 34.99 L105.43 34.34 L107.84 33.71 L110.25 33.08 L112.67 32.44 L115.08 31.8 L117.49 31.19 L119.9 30.61 L122.31 30.02 L124.73 29.42 L127.14 28.83 L129.55 28.26 L131.96 27.72 L134.37 27.17 L136.79 26.61 L139.2 26.06 L141.61 25.54 L144.02 25.04 L146.43 24.53 L148.85 23.97 L151.26 23.41 L153.67 22.92 L156.08 22.47 L158.49 22 L160.91 21.49 L163.32 20.98 L165.73 20.47 L168.14 19.95 L170.55 19.46 L172.97 19.01 L175.38 18.57 L177.79 18.1 L180.2 17.6 L182.61 17.13 L185.03 16.69 L187.44 16.28 L189.85 15.94 L192.26 15.57 L194.67 15.27 L197.09 15.05 L199.5 14.79 L201.91 14.41 L204.32 14.09 L206.73 13.87 L209.15 13.77 L211.56 13.69 L213.43 13.56" fill="none" stroke="#FF2C00" stroke-width="1.65" stroke-dasharray="1.6 2.35" stroke-linejoin="round"/>
</g>
<path d="M39.1 144.4v-3.1 M39.1 2v3.1 M51.16 144.4v-1.8 M51.16 2v1.8 M63.22 144.4v-1.8 M63.22 2v1.8 M75.28 144.4v-1.8 M75.28 2v1.8 M87.34 144.4v-1.8 M87.34 2v1.8 M99.4 144.4v-3.1 M99.4 2v3.1 M111.46 144.4v-1.8 M111.46 2v1.8 M123.52 144.4v-1.8 M123.52 2v1.8 M135.58 144.4v-1.8 M135.58 2v1.8 M147.64 144.4v-1.8 M147.64 2v1.8 M159.7 144.4v-3.1 M159.7 2v3.1 M171.76 144.4v-1.8 M171.76 2v1.8 M183.82 144.4v-1.8 M183.82 2v1.8 M195.88 144.4v-1.8 M195.88 2v1.8 M207.94 144.4v-1.8 M207.94 2v1.8 M220 144.4v-3.1 M220 2v3.1 M31.1 140.92h1.8 M222.4 140.92h-1.8 M31.1 135.6h3.1 M222.4 135.6h-3.1 M31.1 130.28h1.8 M222.4 130.28h-1.8 M31.1 124.96h1.8 M222.4 124.96h-1.8 M31.1 119.64h1.8 M222.4 119.64h-1.8 M31.1 114.32h3.1 M222.4 114.32h-3.1 M31.1 109h1.8 M222.4 109h-1.8 M31.1 103.68h1.8 M222.4 103.68h-1.8 M31.1 98.36h1.8 M222.4 98.36h-1.8 M31.1 93.04h3.1 M222.4 93.04h-3.1 M31.1 87.72h1.8 M222.4 87.72h-1.8 M31.1 82.4h1.8 M222.4 82.4h-1.8 M31.1 77.08h1.8 M222.4 77.08h-1.8 M31.1 71.76h3.1 M222.4 71.76h-3.1 M31.1 66.44h1.8 M222.4 66.44h-1.8 M31.1 61.12h1.8 M222.4 61.12h-1.8 M31.1 55.8h1.8 M222.4 55.8h-1.8 M31.1 50.48h3.1 M222.4 50.48h-3.1 M31.1 45.16h1.8 M222.4 45.16h-1.8 M31.1 39.84h1.8 M222.4 39.84h-1.8 M31.1 34.52h1.8 M222.4 34.52h-1.8 M31.1 29.2h3.1 M222.4 29.2h-3.1 M31.1 23.88h1.8 M222.4 23.88h-1.8 M31.1 18.56h1.8 M222.4 18.56h-1.8 M31.1 13.24h1.8 M222.4 13.24h-1.8 M31.1 7.92h3.1 M222.4 7.92h-3.1" stroke="#000" stroke-width="0.5" fill="none"/>
<rect x="51.16" y="39.84" width="24.12" height="42.56" fill="none" stroke="#000" stroke-width="0.9"/>
<path d="M51.16 39.84L145.1 12.05 M51.16 82.4L145.1 139.5" stroke="#000" stroke-width="1.1" fill="none"/>
<rect x="31.1" y="2" width="191.3" height="142.4" fill="none" stroke="#000" stroke-width="2.3"/>
<clipPath id="ci1"><rect x="145.1" y="12.05" width="72.3" height="127.45"/></clipPath>
<g clip-path="url(#ci1)">
<path d="M145.01 102.61 L145.1 102.54 L145.37 102.33 L145.73 102.04 L146.09 101.75 L146.45 101.46 L146.81 101.17 L147.17 100.87 L147.54 100.58 L147.9 100.28 L148.26 99.98 L148.62 99.68 L148.98 99.37 L149.34 99.07 L149.7 98.77 L150.06 98.46 L150.42 98.15 L150.78 97.85 L150.88 97.76 L151.14 97.54 L151.5 97.23 L151.86 96.92 L152.22 96.6 L152.58 96.28 L152.94 95.97 L153.3 95.64 L153.67 95.32 L154.03 95 L154.39 94.67 L154.75 94.35 L155.11 94.02 L155.47 93.7 L155.83 93.37 L156.19 93.05 L156.55 92.73 L156.91 92.4 L157.27 92.08 L157.63 91.76 L157.99 91.44 L158.35 91.13 L158.71 90.81 L159.07 90.5 L159.44 90.19 L159.8 89.88 L160.16 89.58 L160.28 89.48 L160.52 89.28 L160.88 88.98 L161.24 88.67 L161.6 88.36 L161.96 88.04 L162.32 87.73 L162.68 87.41 L163.04 87.1 L163.4 86.78 L163.76 86.46 L164.12 86.15 L164.48 85.84 L164.84 85.53 L165.21 85.22 L165.57 84.92 L165.93 84.62 L166.29 84.33 L166.65 84.04 L167.01 83.76 L167.37 83.48 L167.73 83.21 L168.09 82.95 L168.45 82.7 L168.81 82.46 L169.17 82.22 L169.53 82 L169.89 81.79 L170.25 81.59 L170.41 81.51 L170.61 81.4 L170.97 81.22 L171.34 81.04 L171.7 80.87 L172.06 80.71 L172.42 80.54 L172.78 80.39 L173.14 80.23 L173.5 80.09 L173.86 79.94 L174.22 79.8 L174.58 79.66 L174.94 79.53 L175.3 79.39 L175.66 79.26 L176.02 79.13 L176.38 79.01 L176.74 78.88 L177.11 78.75 L177.47 78.63 L177.83 78.51 L178.19 78.38 L178.36 78.32 L178.55 78.26 L178.91 78.16 L179.27 78.06 L179.63 77.98 L179.99 77.89 L180.35 77.79 L180.71 77.67 L181.07 77.53 L181.43 77.37 L181.43 77.37 L181.79 77.09 L182.15 76.73 L182.88 68.45 L183.24 68.15 L183.6 67.86 L183.96 67.57 L184.32 67.28 L184.68 66.99 L185.04 66.7 L185.4 66.41 L185.76 66.12 L186.12 65.83 L186.48 65.54 L186.84 65.25 L187.2 64.97 L187.56 64.68 L187.92 64.39 L188.28 64.11 L188.64 63.83 L189 63.54 L189.36 63.26 L189.72 62.98 L190.08 62.7 L190.44 62.42 L190.47 62.39 L190.8 62.14 L191.16 61.86 L191.52 61.58 L191.88 61.31 L192.24 61.03 L192.6 60.76 L192.96 60.48 L193.32 60.21 L193.68 59.94 L194.04 59.66 L194.4 59.39 L194.76 59.12 L195.12 58.85 L195.48 58.58 L195.84 58.31 L196.2 58.04 L196.56 57.77 L196.92 57.5 L197.28 57.23 L197.64 56.96 L198 56.69 L198.36 56.42 L198.72 56.15 L199.08 55.88 L199.44 55.61 L199.8 55.34 L200.16 55.07 L200.52 54.8 L200.59 54.75 L200.88 54.53 L201.24 54.26 L201.6 53.98 L201.96 53.71 L202.32 53.44 L202.68 53.17 L203.04 52.9 L203.4 52.62 L203.76 52.35 L204.12 52.08 L204.48 51.81 L204.84 51.53 L205.2 51.26 L205.56 50.99 L205.92 50.72 L206.28 50.44 L206.64 50.17 L207 49.9 L207.36 49.63 L207.72 49.36 L208.08 49.08 L208.44 48.81 L208.8 48.54 L209.16 48.27 L209.52 48 L209.88 47.73 L210.24 47.46 L210.6 47.19 L210.71 47.1 L210.96 46.92 L211.32 46.65 L211.68 46.38 L212.04 46.11 L212.4 45.85 L212.76 45.59 L213.12 45.32 L213.48 45.06 L213.84 44.79 L214.2 44.53 L214.56 44.26 L214.92 43.99 L215.28 43.72 L215.64 43.44 L216 43.17 L216.36 42.89 L216.68 42.64 L216.72 42.61 L217.08 42.33 L217.44 42.07" fill="none" stroke="#0C5DA5" stroke-width="1.7" stroke-linejoin="round"/>
<path d="M145.01 102.61 L145.1 102.54 L145.37 102.33 L145.73 102.04 L146.09 101.75 L146.45 101.46 L146.81 101.17 L147.17 100.87 L147.54 100.58 L147.9 100.28 L148.26 99.98 L148.62 99.68 L148.98 99.37 L149.34 99.07 L149.7 98.77 L150.06 98.46 L150.42 98.15 L150.78 97.85 L150.88 97.76 L151.14 97.54 L151.5 97.23 L151.86 96.92 L152.22 96.6 L152.58 96.28 L152.94 95.97 L153.3 95.64 L153.67 95.32 L154.03 95 L154.39 94.67 L154.75 94.35 L155.11 94.02 L155.47 93.7 L155.83 93.37 L156.19 93.05 L156.55 92.73 L156.91 92.4 L157.27 92.08 L157.63 91.76 L157.99 91.44 L158.35 91.13 L158.71 90.81 L159.07 90.5 L159.44 90.19 L159.8 89.88 L160.16 89.58 L160.28 89.48 L160.52 89.28 L160.88 88.98 L161.24 88.67 L161.6 88.36 L161.96 88.04 L162.32 87.73 L162.68 87.41 L163.04 87.1 L163.4 86.78 L163.76 86.46 L164.12 86.15 L164.48 85.84 L164.84 85.53 L165.21 85.22 L165.57 84.92 L165.93 84.62 L166.29 84.33 L166.65 84.04 L167.01 83.76 L167.37 83.48 L167.73 83.21 L168.09 82.95 L168.45 82.7 L168.81 82.46 L169.17 82.22 L169.53 82 L169.89 81.79 L170.25 81.59 L170.41 81.51 L170.61 81.4 L170.97 81.22 L171.34 81.04 L171.7 80.87 L172.06 80.71 L172.42 80.54 L172.78 80.39 L173.14 80.23 L173.5 80.09 L173.86 79.94 L174.22 79.8 L174.58 79.66 L174.94 79.53 L175.3 79.39 L175.66 79.26 L176.02 79.13 L176.38 79.01 L176.74 78.88 L177.11 78.75 L177.47 78.63 L177.83 78.51 L178.19 78.38 L178.36 78.32 L178.55 78.26 L178.91 78.16 L179.27 78.06 L179.63 77.98 L179.99 77.89 L180.35 77.79 L180.71 77.67 L181.07 77.53 L181.43 77.37 L181.43 77.37 L181.79 77.09 L182.15 76.73 L182.88 68.45 L183.24 68.15 L183.6 67.86 L183.96 67.57 L184.32 67.28 L184.68 66.99 L185.04 66.7 L185.4 66.41 L185.76 66.12 L186.12 65.83 L186.48 65.54 L186.84 65.25 L187.2 64.97 L187.56 64.68 L187.92 64.39 L188.28 64.11 L188.64 63.83 L189 63.54 L189.36 63.26 L189.72 62.98 L190.08 62.7 L190.44 62.42 L190.47 62.39 L190.8 62.14 L191.16 61.86 L191.52 61.58 L191.88 61.31 L192.24 61.03 L192.6 60.76 L192.96 60.48 L193.32 60.21 L193.68 59.94 L194.04 59.66 L194.4 59.39 L194.76 59.12 L195.12 58.85 L195.48 58.58 L195.84 58.31 L196.2 58.04 L196.56 57.77 L196.92 57.5 L197.28 57.23 L197.64 56.96 L198 56.69 L198.36 56.42 L198.72 56.15 L199.08 55.88 L199.44 55.61 L199.8 55.34 L200.16 55.07 L200.52 54.8 L200.59 54.75 L200.88 54.53 L201.24 54.26 L201.6 53.98 L201.96 53.71 L202.32 53.44 L202.68 53.17 L203.04 52.9 L203.4 52.62 L203.76 52.35 L204.12 52.08 L204.48 51.81 L204.84 51.53 L205.2 51.26 L205.56 50.99 L205.92 50.72 L206.28 50.44 L206.64 50.17 L207 49.9 L207.36 49.63 L207.72 49.36 L208.08 49.08 L208.44 48.81 L208.8 48.54 L209.16 48.27 L209.52 48 L209.88 47.73 L210.24 47.46 L210.6 47.19 L210.71 47.1 L210.96 46.92 L211.32 46.65 L211.68 46.38 L212.04 46.11 L212.4 45.85 L212.76 45.59 L213.12 45.32 L213.48 45.06 L213.84 44.79 L214.2 44.53 L214.56 44.26 L214.92 43.99 L215.28 43.72 L215.64 43.44 L216 43.17 L216.36 42.89 L216.68 42.64 L216.72 42.61 L217.08 42.33 L217.44 42.07" fill="none" stroke="#00B945" stroke-width="1.85" stroke-dasharray="5.9 2.3" stroke-linejoin="round"/>
<path d="M144.92 93.7 L145.1 93.62 L145.28 93.53 L145.64 93.34 L146 93.13 L146.37 92.9 L146.73 92.66 L147.09 92.41 L147.45 92.14 L147.81 91.87 L148.17 91.59 L148.53 91.31 L148.9 91.02 L149.26 90.73 L149.62 90.44 L149.98 90.16 L150.34 89.88 L150.7 89.61 L150.88 89.48 L151.06 89.34 L151.43 89.08 L151.79 88.81 L152.15 88.55 L152.51 88.28 L152.87 88.01 L153.23 87.75 L153.6 87.48 L153.96 87.21 L154.32 86.94 L154.68 86.67 L155.04 86.4 L155.4 86.13 L155.76 85.86 L156.13 85.59 L156.49 85.32 L156.85 85.05 L157.21 84.78 L157.57 84.5 L157.93 84.23 L158.29 83.96 L158.66 83.69 L159.02 83.42 L159.38 83.14 L159.74 82.87 L160.1 82.6 L160.28 82.47 L160.46 82.33 L160.83 82.05 L161.19 81.77 L161.55 81.48 L161.91 81.18 L162.27 80.88 L162.63 80.58 L162.99 80.28 L163.36 79.97 L163.72 79.67 L164.08 79.36 L164.44 79.05 L164.8 78.75 L165.16 78.45 L165.52 78.15 L165.89 77.85 L166.25 77.56 L166.61 77.28 L166.97 77 L167.33 76.73 L167.69 76.47 L168.06 76.21 L168.42 75.97 L168.78 75.73 L169.14 75.51 L169.5 75.29 L169.86 75.09 L170.22 74.91 L170.41 74.82 L170.59 74.73 L170.95 74.57 L171.31 74.42 L171.67 74.28 L172.03 74.15 L172.39 74.02 L172.75 73.9 L173.12 73.79 L173.48 73.69 L173.84 73.58 L174.2 73.49 L174.56 73.39 L174.92 73.3 L175.29 73.2 L175.65 73.11 L176.01 73.02 L176.37 72.93 L176.73 72.83 L177.09 72.73 L177.45 72.63 L177.82 72.52 L178.18 72.41 L178.54 72.29 L178.9 72.16 L179.26 72.02 L179.62 71.88 L179.98 71.73 L180.35 71.56 L180.71 71.39 L181.07 71.2 L181.43 71 L181.79 70.68 L182.15 62.39 L182.52 62.08 L182.88 61.77 L183.24 61.45 L183.6 61.14 L183.96 60.83 L184.32 60.52 L184.68 60.21 L185.05 59.91 L185.41 59.6 L185.77 59.29 L186.13 58.99 L186.49 58.68 L186.85 58.38 L187.21 58.07 L187.58 57.77 L187.94 57.47 L188.3 57.17 L188.66 56.87 L189.02 56.57 L189.38 56.27 L189.75 55.98 L190.11 55.68 L190.47 55.38 L190.83 55.09 L191.19 54.79 L191.55 54.5 L191.91 54.2 L192.28 53.91 L192.64 53.61 L193 53.32 L193.36 53.02 L193.72 52.73 L194.08 52.44 L194.44 52.15 L194.81 51.86 L195.17 51.57 L195.53 51.28 L195.89 51 L196.25 50.71 L196.61 50.43 L196.98 50.15 L197.34 49.87 L197.7 49.59 L198.06 49.32 L198.42 49.04 L198.78 48.77 L199.14 48.51 L199.32 48.37 L199.51 48.24 L199.87 47.98 L200.23 47.72 L200.59 47.46 L200.95 47.2 L201.31 46.95 L201.67 46.69 L202.04 46.44 L202.4 46.19 L202.76 45.94 L203.12 45.69 L203.48 45.45 L203.84 45.2 L204.21 44.96 L204.57 44.72 L204.93 44.48 L205.29 44.23 L205.65 43.99 L206.01 43.75 L206.37 43.51 L206.74 43.28 L207.1 43.04 L207.46 42.81 L207.82 42.58 L208.18 42.35 L208.54 42.13 L208.9 41.9 L209.27 41.67 L209.63 41.44 L209.99 41.21 L210.35 40.97 L210.71 40.73 L211.07 40.48 L211.44 40.22 L211.8 39.96 L212.16 39.7 L212.52 39.43 L212.88 39.16 L213.24 38.89 L213.6 38.61 L213.97 38.34 L214.33 38.06 L214.69 37.78 L215.05 37.5 L215.41 37.23 L215.77 36.95 L216.13 36.68 L216.5 36.4 L216.68 36.27 L216.86 36.13 L217.22 35.86 L217.58 35.59" fill="none" stroke="#FF9500" stroke-width="1.7" stroke-dasharray="9.6 2.4 1.5 2.4" stroke-linejoin="round"/>
<path d="M144.85 110.39 L145.1 110.19 L145.21 110.09 L145.57 109.78 L145.93 109.45 L146.29 109.11 L146.65 108.76 L147.01 108.41 L147.37 108.05 L147.73 107.68 L148.09 107.31 L148.45 106.93 L148.82 106.56 L149.18 106.18 L149.54 105.81 L149.9 105.44 L150.26 105.07 L150.62 104.71 L150.88 104.45 L150.98 104.36 L151.34 104.01 L151.7 103.66 L152.06 103.31 L152.42 102.97 L152.78 102.62 L153.14 102.27 L153.5 101.93 L153.86 101.58 L154.22 101.24 L154.58 100.89 L154.94 100.55 L155.3 100.21 L155.66 99.87 L156.02 99.53 L156.38 99.19 L156.74 98.84 L157.1 98.51 L157.47 98.17 L157.83 97.83 L158.19 97.49 L158.55 97.15 L158.91 96.81 L159.27 96.48 L159.63 96.14 L159.99 95.8 L160.28 95.53 L160.35 95.47 L160.71 95.13 L161.07 94.78 L161.43 94.44 L161.79 94.08 L162.15 93.73 L162.51 93.37 L162.87 93.01 L163.23 92.65 L163.59 92.28 L163.95 91.92 L164.31 91.56 L164.67 91.2 L165.03 90.85 L165.39 90.49 L165.75 90.15 L166.11 89.8 L166.48 89.46 L166.84 89.13 L167.2 88.8 L167.56 88.48 L167.92 88.17 L168.28 87.87 L168.64 87.57 L169 87.29 L169.36 87.01 L169.72 86.75 L170.08 86.5 L170.41 86.29 L170.44 86.27 L170.8 86.04 L171.16 85.82 L171.52 85.61 L171.88 85.41 L172.24 85.21 L172.6 85.02 L172.96 84.83 L173.32 84.65 L173.68 84.48 L174.04 84.3 L174.4 84.14 L174.76 83.97 L175.13 83.81 L175.49 83.65 L175.85 83.49 L176.21 83.33 L176.57 83.17 L176.93 83.01 L177.29 82.86 L177.65 82.7 L178.01 82.54 L178.37 82.38 L178.73 82.22 L179.09 82.05 L179.45 81.88 L179.81 81.71 L180.17 81.53 L180.53 81.35 L180.89 81.16 L181.25 80.97 L181.43 80.87 L181.61 80.77 L181.97 80.55 L182.7 72.27 L183.06 71.98 L183.42 71.7 L183.78 71.41 L184.14 71.13 L184.5 70.84 L184.87 70.56 L185.23 70.27 L185.59 69.99 L185.95 69.71 L186.31 69.42 L186.67 69.14 L187.03 68.86 L187.4 68.58 L187.76 68.3 L188.12 68.02 L188.48 67.74 L188.84 67.46 L189.2 67.18 L189.56 66.91 L189.93 66.63 L190.29 66.35 L190.47 66.22 L190.65 66.08 L191.01 65.8 L191.37 65.53 L191.73 65.26 L192.09 64.98 L192.46 64.71 L192.82 64.44 L193.18 64.17 L193.54 63.9 L193.9 63.63 L194.26 63.36 L194.63 63.09 L194.99 62.82 L195.35 62.55 L195.71 62.28 L196.07 62.01 L196.43 61.75 L196.79 61.48 L197.16 61.21 L197.52 60.94 L197.88 60.68 L198.24 60.41 L198.6 60.14 L198.96 59.88 L199.32 59.61 L199.69 59.34 L199.87 59.21 L200.05 59.07 L200.41 58.81 L200.77 58.54 L201.13 58.28 L201.49 58.01 L201.86 57.75 L202.22 57.49 L202.58 57.22 L202.94 56.96 L203.3 56.7 L203.66 56.44 L204.02 56.18 L204.39 55.92 L204.75 55.66 L205.11 55.39 L205.47 55.13 L205.83 54.87 L206.19 54.61 L206.56 54.34 L206.92 54.08 L207.28 53.82 L207.64 53.55 L208 53.28 L208.36 53.02 L208.72 52.75 L209.09 52.48 L209.45 52.2 L209.81 51.93 L210.17 51.66 L210.53 51.38 L210.71 51.24 L210.89 51.1 L211.25 50.82 L211.62 50.55 L211.98 50.27 L212.34 50 L212.7 49.72 L213.06 49.44 L213.42 49.16 L213.78 48.87 L214.15 48.59 L214.51 48.3 L214.87 48.01 L215.23 47.71 L215.59 47.4 L215.95 47.1 L216.32 46.78 L216.68 46.46 L217.04 46.14 L217.4 45.83 L217.76 45.52" fill="none" stroke="#FF2C00" stroke-width="1.65" stroke-dasharray="1.6 2.35" stroke-linejoin="round"/>
</g>
<rect x="145.1" y="12.05" width="72.3" height="127.45" fill="none" stroke="#000" stroke-width="2.3"/>
<text x="27.3" y="139.4" font-size="9.3" text-anchor="end" textLength="4.6" lengthAdjust="spacingAndGlyphs">2</text>
<text x="27.3" y="118.12" font-size="9.3" text-anchor="end" textLength="4.6" lengthAdjust="spacingAndGlyphs">4</text>
<text x="27.3" y="96.84" font-size="9.3" text-anchor="end" textLength="4.6" lengthAdjust="spacingAndGlyphs">6</text>
<text x="27.3" y="75.56" font-size="9.3" text-anchor="end" textLength="4.6" lengthAdjust="spacingAndGlyphs">8</text>
<text x="27.3" y="54.28" font-size="9.3" text-anchor="end" textLength="9.2" lengthAdjust="spacingAndGlyphs">10</text>
<text x="27.3" y="33" font-size="9.3" text-anchor="end" textLength="9.2" lengthAdjust="spacingAndGlyphs">12</text>
<text x="27.3" y="11.72" font-size="9.3" text-anchor="end" textLength="9.2" lengthAdjust="spacingAndGlyphs">14</text>
<text x="38.9" y="155" font-size="9.3" text-anchor="middle" textLength="4.7" lengthAdjust="spacingAndGlyphs">0</text>
<text x="99.2" y="155" font-size="9.3" text-anchor="middle" textLength="18.8" lengthAdjust="spacingAndGlyphs">1000</text>
<text x="159.5" y="155" font-size="9.3" text-anchor="middle" textLength="18.8" lengthAdjust="spacingAndGlyphs">2000</text>
<text x="219.8" y="155" font-size="9.3" text-anchor="middle" textLength="18.8" lengthAdjust="spacingAndGlyphs">3000</text>
<text x="126.3" y="169.6" font-size="12.8" text-anchor="middle" textLength="59" lengthAdjust="spacingAndGlyphs">Depth (km)</text>
<g transform="translate(9.6 103.8) rotate(-90)">
<text x="-0.61" y="0" font-size="11.8" text-anchor="start" textLength="15.15" lengthAdjust="spacingAndGlyphs">Vp</text>
<text x="19.19" y="0" font-size="11.8" text-anchor="start" textLength="27.15" lengthAdjust="spacingAndGlyphs">(km.s</text>
<text x="46.7" y="-3" font-size="8.5" text-anchor="start" textLength="10.47" lengthAdjust="spacingAndGlyphs">−1</text>
<text x="56.59" y="0" font-size="11.8" text-anchor="start" textLength="5.25" lengthAdjust="spacingAndGlyphs">)</text>
</g>
<path d="M230.9 14.1H250.9" stroke="#0C5DA5" stroke-width="1.7" stroke-linecap="square" fill="none"/>
<text x="258.46" y="18.3" font-size="9.7" text-anchor="start" textLength="23.63" lengthAdjust="spacingAndGlyphs">Mean</text>
<text x="285.06" y="18.3" font-size="9.7" text-anchor="start" textLength="42.63" lengthAdjust="spacingAndGlyphs">Recovered</text>
<path d="M230.9 27.9H250.9" stroke="#00B945" stroke-width="1.85" stroke-dasharray="5.9 2.3" fill="none"/>
<text x="258.46" y="32.1" font-size="9.7" text-anchor="start" textLength="23.63" lengthAdjust="spacingAndGlyphs">Mean</text>
<text x="285.06" y="32.1" font-size="9.7" text-anchor="start" textLength="50.83" lengthAdjust="spacingAndGlyphs">GLAD-M25</text>
<path d="M230.9 41.7H250.9" stroke="#FF9500" stroke-width="1.7" stroke-dasharray="9.6 2.4 1.5 2.4" fill="none"/>
<text x="258.46" y="45.9" font-size="9.7" text-anchor="start" textLength="19.33" lengthAdjust="spacingAndGlyphs">Max</text>
<text x="280.56" y="45.9" font-size="9.7" text-anchor="start" textLength="50.63" lengthAdjust="spacingAndGlyphs">GLAD-M25</text>
<path d="M230.9 55.4H250.9" stroke="#FF2C00" stroke-width="1.65" stroke-dasharray="1.6 2.35" fill="none"/>
<text x="258.46" y="59.6" font-size="9.7" text-anchor="start" textLength="17.53" lengthAdjust="spacingAndGlyphs">Min</text>
<text x="278.96" y="59.6" font-size="9.7" text-anchor="start" textLength="50.83" lengthAdjust="spacingAndGlyphs">GLAD-M25</text>
</g>
<g transform="translate(172.9 227.7)">
<clipPath id="ca2"><rect x="31.1" y="2" width="191.3" height="142.4"/></clipPath>
<g clip-path="url(#ca2)">
<path d="M38.8 97.51 L38.98 95.7 L39.1 90.91 L39.16 89.07 L39.46 81.87 L39.52 81.37 L39.88 79.2 L40.24 77.74 L40.31 77.4 L40.6 75.72 L40.95 73.79 L41.15 73.25 L41.31 73.06 L41.67 72.82 L41.69 72.82 L42.03 72.84 L42.39 72.89 L42.75 72.95 L43.11 73.01 L43.32 73.04 L43.47 73.06 L43.83 73.11 L44.19 73.17 L44.55 73.22 L44.91 73.25 L45.01 73.25 L45.26 73.24 L45.62 73.19 L45.98 73.12 L46.34 73.02 L46.7 72.91 L47.06 72.78 L47.24 72.72 L47.42 72.65 L47.78 72.46 L48.14 72.22 L48.5 71.95 L48.86 71.65 L49.22 71.35 L49.57 71.05 L49.93 70.76 L50.02 70.7 L50.29 70.49 L50.65 70.22 L50.86 70.06 L51.01 69.94 L51.37 69.65 L51.73 69.36 L52.09 69.06 L52.45 68.75 L52.79 68.46 L52.81 68.45 L53.17 68.14 L53.52 67.82 L53.88 67.5 L54.24 67.17 L54.6 66.85 L54.96 66.53 L55.32 66.21 L55.68 65.9 L55.93 65.7 L56.04 65.6 L56.4 65.29 L56.76 64.98 L57.12 64.66 L57.48 64.35 L57.83 64.05 L58.19 63.77 L58.55 63.5 L58.91 63.26 L59.27 63.05 L59.3 63.04 L59.63 62.87 L59.99 62.71 L60.35 62.55 L60.71 62.41 L61.07 62.28 L61.43 62.15 L61.78 62.03 L61.96 61.97 L62.14 61.91 L62.5 61.82 L62.86 61.71 L62.98 61.65 L63.22 61.44 L63.46 58.67 L63.82 58.38 L64.17 58.1 L64.53 57.81 L64.88 57.53 L65.23 57.25 L65.59 56.97 L65.94 56.69 L66 56.65 L66.3 56.42 L66.65 56.14 L67.01 55.88 L67.36 55.61 L67.72 55.34 L68.07 55.08 L68.42 54.81 L68.78 54.54 L69.13 54.28 L69.37 54.1 L69.49 54.01 L69.84 53.74 L70.2 53.47 L70.55 53.2 L70.91 52.94 L71.26 52.67 L71.61 52.4 L71.97 52.13 L72.32 51.86 L72.68 51.6 L72.75 51.54 L73.03 51.33 L73.39 51.07 L73.74 50.81 L74.1 50.55 L74.45 50.28 L74.74 50.05 L74.8 50 L75.16 49.75 L75.51 49.53 L75.87 49.31 L76.22 49.07 L76.58 48.8 L76.93 48.46 L77.29 48.04 L77.51 47.71 L77.64 47.43 L78 46.22 L78.18 42.07 L78.54 41.86 L78.9 41.65 L79.26 41.45 L79.62 41.25 L79.98 41.06 L80.35 40.87 L80.71 40.68 L81.07 40.51 L81.13 40.48 L81.43 40.34 L81.79 40.17 L82.16 40 L82.52 39.84 L82.88 39.68 L83.24 39.52 L83.6 39.37 L83.96 39.22 L84.33 39.08 L84.69 38.94 L85.05 38.81 L85.41 38.68 L85.59 38.62 L85.77 38.56 L86.14 38.44 L86.5 38.32 L86.86 38.22 L87.22 38.11 L87.58 38.01 L87.94 37.91 L88.31 37.81 L88.67 37.71 L89.03 37.61 L89.39 37.52 L89.45 37.5 L89.75 37.42 L90.12 37.33 L90.48 37.24 L90.84 37.15 L91.2 37.06 L91.56 36.97 L91.92 36.88 L92.29 36.79 L92.65 36.7 L92.83 36.65 L93.01 36.6 L93.37 36.5 L93.73 36.4 L94.1 36.3 L94.46 36.2 L94.82 36.1 L95.18 35.99 L95.54 35.89 L95.9 35.79 L96.27 35.68 L96.63 35.58 L96.99 35.47 L97.35 35.37 L97.71 35.27 L98.07 35.17 L98.44 35.06 L98.8 34.96 L99.1 34.87 L101.51 34.19 L103.92 33.52 L106.34 32.88 L108.75 32.25 L111.16 31.61 L113.57 30.96 L115.98 30.34 L118.4 29.74 L120.81 29.15 L123.22 28.55 L125.63 27.95 L128.04 27.37 L130.46 26.81 L132.87 26.27 L135.28 25.71 L137.69 25.15 L140.1 24.61 L142.52 24.11 L144.93 23.6 L147.34 23.05 L149.75 22.49 L152.16 21.96 L154.58 21.49 L156.99 21.03 L159.4 20.54 L161.81 20.02 L164.22 19.51 L166.64 18.99 L169.05 18.48 L171.46 18 L173.87 17.54 L176.28 17.07 L178.7 16.55 L181.11 16.04 L183.52 15.56 L185.93 15.1 L188.34 14.62 L190.76 14.11 L193.17 13.59 L195.58 13.08 L197.99 12.57 L200.4 12.06 L202.82 11.54 L205.23 11.18 L207.64 11 L210.05 10.9 L212.46 10.75 L213.13 10.69" fill="none" stroke="#0C5DA5" stroke-width="1.7" stroke-linejoin="round"/>
<path d="M38.8 97.51 L38.98 95.7 L39.1 90.91 L39.16 89.07 L39.46 81.87 L39.52 81.37 L39.88 79.2 L40.24 77.74 L40.31 77.4 L40.6 75.72 L40.95 73.79 L41.15 73.25 L41.31 73.06 L41.67 72.82 L41.69 72.82 L42.03 72.84 L42.39 72.89 L42.75 72.95 L43.11 73.01 L43.32 73.04 L43.47 73.06 L43.83 73.11 L44.19 73.17 L44.55 73.22 L44.91 73.25 L45.01 73.25 L45.26 73.24 L45.62 73.19 L45.98 73.12 L46.34 73.02 L46.7 72.91 L47.06 72.78 L47.24 72.72 L47.42 72.65 L47.78 72.46 L48.14 72.22 L48.5 71.95 L48.86 71.65 L49.22 71.35 L49.57 71.05 L49.93 70.76 L50.02 70.7 L50.29 70.49 L50.65 70.22 L50.86 70.06 L51.01 69.94 L51.37 69.65 L51.73 69.36 L52.09 69.06 L52.45 68.75 L52.79 68.46 L52.81 68.45 L53.17 68.14 L53.52 67.82 L53.88 67.5 L54.24 67.17 L54.6 66.85 L54.96 66.53 L55.32 66.21 L55.68 65.9 L55.93 65.7 L56.04 65.6 L56.4 65.29 L56.76 64.98 L57.12 64.66 L57.48 64.35 L57.83 64.05 L58.19 63.77 L58.55 63.5 L58.91 63.26 L59.27 63.05 L59.3 63.04 L59.63 62.87 L59.99 62.71 L60.35 62.55 L60.71 62.41 L61.07 62.28 L61.43 62.15 L61.78 62.03 L61.96 61.97 L62.14 61.91 L62.5 61.82 L62.86 61.71 L62.98 61.65 L63.22 61.44 L63.46 58.67 L63.82 58.38 L64.17 58.1 L64.53 57.81 L64.88 57.53 L65.23 57.25 L65.59 56.97 L65.94 56.69 L66 56.65 L66.3 56.42 L66.65 56.14 L67.01 55.88 L67.36 55.61 L67.72 55.34 L68.07 55.08 L68.42 54.81 L68.78 54.54 L69.13 54.28 L69.37 54.1 L69.49 54.01 L69.84 53.74 L70.2 53.47 L70.55 53.2 L70.91 52.94 L71.26 52.67 L71.61 52.4 L71.97 52.13 L72.32 51.86 L72.68 51.6 L72.75 51.54 L73.03 51.33 L73.39 51.07 L73.74 50.81 L74.1 50.55 L74.45 50.28 L74.74 50.05 L74.8 50 L75.16 49.75 L75.51 49.53 L75.87 49.31 L76.22 49.07 L76.58 48.8 L76.93 48.46 L77.29 48.04 L77.51 47.71 L77.64 47.43 L78 46.22 L78.18 42.07 L78.54 41.86 L78.9 41.65 L79.26 41.45 L79.62 41.25 L79.98 41.06 L80.35 40.87 L80.71 40.68 L81.07 40.51 L81.13 40.48 L81.43 40.34 L81.79 40.17 L82.16 40 L82.52 39.84 L82.88 39.68 L83.24 39.52 L83.6 39.37 L83.96 39.22 L84.33 39.08 L84.69 38.94 L85.05 38.81 L85.41 38.68 L85.59 38.62 L85.77 38.56 L86.14 38.44 L86.5 38.32 L86.86 38.22 L87.22 38.11 L87.58 38.01 L87.94 37.91 L88.31 37.81 L88.67 37.71 L89.03 37.61 L89.39 37.52 L89.45 37.5 L89.75 37.42 L90.12 37.33 L90.48 37.24 L90.84 37.15 L91.2 37.06 L91.56 36.97 L91.92 36.88 L92.29 36.79 L92.65 36.7 L92.83 36.65 L93.01 36.6 L93.37 36.5 L93.73 36.4 L94.1 36.3 L94.46 36.2 L94.82 36.1 L95.18 35.99 L95.54 35.89 L95.9 35.79 L96.27 35.68 L96.63 35.58 L96.99 35.47 L97.35 35.37 L97.71 35.27 L98.07 35.17 L98.44 35.06 L98.8 34.96 L99.1 34.87 L101.51 34.19 L103.92 33.52 L106.34 32.88 L108.75 32.25 L111.16 31.61 L113.57 30.96 L115.98 30.34 L118.4 29.74 L120.81 29.15 L123.22 28.55 L125.63 27.95 L128.04 27.37 L130.46 26.81 L132.87 26.27 L135.28 25.71 L137.69 25.15 L140.1 24.61 L142.52 24.11 L144.93 23.6 L147.34 23.05 L149.75 22.49 L152.16 21.96 L154.58 21.49 L156.99 21.03 L159.4 20.54 L161.81 20.02 L164.22 19.51 L166.64 18.99 L169.05 18.48 L171.46 18 L173.87 17.54 L176.28 17.07 L178.7 16.55 L181.11 16.04 L183.52 15.56 L185.93 15.1 L188.34 14.62 L190.76 14.11 L193.17 13.59 L195.58 13.08 L197.99 12.57 L200.4 12.06 L202.82 11.54 L205.23 11.18 L207.64 11 L210.05 10.9 L212.46 10.75 L213.13 10.69" fill="none" stroke="#00B945" stroke-width="1.85" stroke-dasharray="5.9 2.3" stroke-linejoin="round"/>
<path d="M38.8 80.7 L38.92 70.7 L38.92 70.7 L39.26 70.29 L39.52 69.63 L39.6 69.36 L39.95 67.4 L39.95 67.4 L40.31 68.48 L40.37 68.57 L40.61 68.78 L40.67 68.81 L41.03 68.94 L41.39 69.04 L41.69 69.1 L41.75 69.11 L42.12 69.19 L42.48 69.27 L42.84 69.35 L43.2 69.43 L43.56 69.49 L43.93 69.55 L44.29 69.59 L44.65 69.62 L45.01 69.63 L45.37 69.59 L45.73 69.49 L46.1 69.34 L46.46 69.16 L46.82 68.98 L47.18 68.81 L47.24 68.78 L47.54 68.64 L47.91 68.47 L48.27 68.28 L48.63 68.09 L48.99 67.89 L49.35 67.71 L49.71 67.53 L50.02 67.4 L50.08 67.37 L50.44 67.24 L50.8 67.11 L50.86 67.08 L51.16 66.91 L51.52 66.67 L51.89 66.4 L52.25 66.11 L52.61 65.83 L52.79 65.7 L52.97 65.56 L53.33 65.3 L53.69 65.03 L54.06 64.76 L54.42 64.49 L54.78 64.22 L55.14 63.94 L55.5 63.67 L55.86 63.4 L55.93 63.35 L56.23 63.12 L56.59 62.83 L56.95 62.52 L57.31 62.21 L57.67 61.91 L58.04 61.62 L58.4 61.35 L58.76 61.11 L59.12 60.89 L59.3 60.8 L59.48 60.72 L59.84 60.58 L60.21 60.46 L60.57 60.36 L60.93 60.26 L61.29 60.17 L61.65 60.07 L62.02 59.95 L62.38 59.82 L62.74 59.65 L62.98 59.52 L63.1 59.42 L63.22 56.65 L63.58 56.34 L63.95 56.03 L64.31 55.72 L64.67 55.41 L65.03 55.11 L65.39 54.81 L65.75 54.51 L66 54.31 L66.12 54.21 L66.48 53.92 L66.84 53.62 L67.2 53.33 L67.56 53.04 L67.92 52.75 L68.29 52.47 L68.65 52.19 L68.95 51.97 L69.01 51.93 L69.37 51.66 L69.73 51.41 L70.1 51.16 L70.46 50.91 L70.82 50.67 L71.18 50.43 L71.42 50.27 L71.54 50.19 L71.9 49.96 L72.27 49.73 L72.63 49.5 L72.75 49.42 L72.99 49.25 L73.35 48.98 L73.71 48.71 L74.08 48.43 L74.44 48.16 L74.74 47.93 L74.8 47.88 L75.16 47.61 L75.52 47.34 L75.88 47.06 L76.25 46.79 L76.61 46.52 L76.97 46.24 L77.33 45.97 L77.69 45.69 L77.81 38.78 L78.17 38.68 L78.53 38.57 L78.89 38.47 L79.24 38.37 L79.6 38.27 L79.96 38.16 L80.32 38.06 L80.67 37.95 L81.03 37.85 L81.13 37.82 L81.39 37.74 L81.75 37.63 L82.1 37.52 L82.46 37.41 L82.82 37.3 L83.18 37.18 L83.53 37.07 L83.89 36.96 L84.25 36.84 L84.61 36.73 L84.96 36.62 L85.32 36.52 L85.59 36.44 L85.68 36.41 L86.04 36.31 L86.39 36.21 L86.75 36.11 L87.11 36.02 L87.47 35.92 L87.82 35.82 L88.18 35.73 L88.54 35.63 L88.9 35.53 L89.25 35.43 L89.45 35.37 L89.61 35.32 L89.97 35.22 L90.33 35.11 L90.68 35 L91.04 34.89 L91.4 34.77 L91.76 34.66 L92.11 34.54 L92.47 34.43 L92.83 34.31 L93.07 34.26 L95.48 33.79 L97.89 33.31 L100.31 32.81 L102.72 32.3 L105.13 31.82 L107.54 31.2 L109.95 30.59 L112.37 29.96 L114.78 29.35 L117.19 28.76 L119.6 28.17 L122.01 27.58 L124.43 26.97 L126.84 26.38 L129.25 25.81 L131.66 25.26 L134.07 24.71 L136.49 24.15 L138.9 23.6 L141.31 23.08 L143.72 22.58 L146.13 22.06 L148.55 21.49 L150.96 20.94 L153.37 20.44 L155.78 19.99 L158.19 19.51 L160.61 19.01 L163.02 18.49 L165.43 17.97 L167.84 17.46 L170.25 16.96 L172.67 16.5 L175.08 16.03 L177.49 15.53 L179.9 15.01 L182.31 14.51 L184.73 14.05 L187.14 13.59 L189.55 13.09 L191.96 12.46 L194.37 11.83 L196.79 11.21 L199.2 10.58 L201.61 9.93 L204.02 9.34 L206.43 8.94 L208.85 8.86 L211.26 8.78 L213.13 8.66" fill="none" stroke="#FF9500" stroke-width="1.7" stroke-dasharray="9.6 2.4 1.5 2.4" stroke-linejoin="round"/>
<path d="M38.8 137.73 L39.58 137.73 L39.61 93.04 L39.7 92.3 L39.95 91.59 L40.29 91.14 L40.31 91.12 L40.62 90.98 L40.96 90.91 L41.3 90.77 L41.39 90.7 L41.63 89.85 L41.69 82.61 L42.06 82.57 L42.42 82.45 L42.72 82.29 L42.78 82.25 L43.14 81.66 L43.2 77.93 L43.56 77.57 L43.91 77.24 L44.27 76.94 L44.53 76.76 L44.63 76.7 L44.98 76.5 L45.34 76.33 L45.7 76.18 L46.05 76.04 L46.41 75.9 L46.77 75.74 L47.12 75.55 L47.24 75.48 L47.48 75.33 L47.84 75.08 L48.19 74.8 L48.55 74.5 L48.9 74.19 L49.26 73.88 L49.62 73.57 L49.97 73.28 L50.02 73.25 L50.33 73.02 L50.69 72.75 L50.86 72.61 L51.04 72.45 L51.4 72.12 L51.76 71.76 L52.11 71.39 L52.47 71.02 L52.79 70.7 L52.83 70.66 L53.18 70.32 L53.54 69.97 L53.89 69.63 L54.25 69.29 L54.61 68.95 L54.96 68.62 L55.32 68.28 L55.68 67.95 L55.93 67.72 L56.03 67.62 L56.39 67.27 L56.75 66.92 L57.1 66.56 L57.46 66.2 L57.81 65.86 L58.17 65.52 L58.53 65.21 L58.88 64.93 L59.24 64.67 L59.3 64.63 L59.6 64.45 L59.95 64.25 L60.31 64.07 L60.67 63.9 L61.02 63.74 L61.38 63.58 L61.74 63.42 L62.09 63.26 L62.45 63.1 L62.8 62.92 L62.98 62.82 L63.16 62.72 L63.4 59.95 L63.76 59.67 L64.11 59.39 L64.47 59.11 L64.83 58.83 L65.18 58.55 L65.54 58.28 L65.89 58.01 L66 57.93 L66.25 57.73 L66.61 57.47 L66.96 57.2 L67.32 56.93 L67.67 56.67 L68.03 56.4 L68.39 56.14 L68.74 55.88 L69.1 55.61 L69.13 55.59 L69.45 55.35 L69.81 55.09 L70.16 54.83 L70.52 54.57 L70.88 54.32 L71.23 54.06 L71.59 53.8 L71.94 53.54 L72.3 53.27 L72.66 53 L72.75 52.93 L73.01 52.73 L73.37 52.45 L73.72 52.18 L74.08 51.89 L74.44 51.6 L74.74 51.33 L74.79 51.28 L75.15 50.98 L75.5 50.68 L75.86 50.38 L76.22 50.05 L76.57 49.7 L76.93 49.28 L77.28 48.81 L77.51 48.46 L77.64 48.21 L78 47.29 L78.24 43.88 L78.6 43.64 L78.96 43.4 L79.2 43.24 L79.32 43.17 L79.68 42.94 L80.04 42.71 L80.4 42.49 L80.76 42.28 L81.12 42.08 L81.13 42.07 L81.48 41.9 L81.84 41.72 L82.2 41.56 L82.56 41.39 L82.92 41.23 L83.28 41.08 L83.64 40.93 L84 40.79 L84.36 40.64 L84.72 40.5 L85.08 40.36 L85.44 40.22 L85.59 40.16 L85.8 40.08 L86.16 39.94 L86.52 39.8 L86.88 39.67 L87.24 39.54 L87.6 39.41 L87.96 39.28 L88.32 39.15 L88.68 39.03 L89.04 38.91 L89.41 38.79 L89.45 38.78 L89.77 38.67 L90.13 38.56 L90.49 38.45 L90.85 38.34 L91.21 38.23 L91.57 38.12 L91.93 38.02 L92.29 37.92 L92.65 37.82 L93.07 37.71 L95.48 37.04 L97.89 36.35 L100.31 35.67 L102.72 34.99 L105.13 34.34 L107.54 33.71 L109.95 33.08 L112.37 32.44 L114.78 31.8 L117.19 31.19 L119.6 30.61 L122.01 30.02 L124.43 29.42 L126.84 28.83 L129.25 28.26 L131.66 27.72 L134.07 27.17 L136.49 26.61 L138.9 26.06 L141.31 25.54 L143.72 25.04 L146.13 24.53 L148.55 23.97 L150.96 23.41 L153.37 22.92 L155.78 22.47 L158.19 22 L160.61 21.49 L163.02 20.98 L165.43 20.47 L167.84 19.95 L170.25 19.46 L172.67 19.01 L175.08 18.57 L177.49 18.1 L179.9 17.6 L182.31 17.13 L184.73 16.69 L187.14 16.28 L189.55 15.94 L191.96 15.57 L194.37 15.27 L196.79 15.05 L199.2 14.79 L201.61 14.41 L204.02 14.09 L206.43 13.87 L208.85 13.77 L211.26 13.69 L213.13 13.56" fill="none" stroke="#FF2C00" stroke-width="1.65" stroke-dasharray="1.6 2.35" stroke-linejoin="round"/>
</g>
<path d="M38.8 144.4v-3.1 M38.8 2v3.1 M50.86 144.4v-1.8 M50.86 2v1.8 M62.92 144.4v-1.8 M62.92 2v1.8 M74.98 144.4v-1.8 M74.98 2v1.8 M87.04 144.4v-1.8 M87.04 2v1.8 M99.1 144.4v-3.1 M99.1 2v3.1 M111.16 144.4v-1.8 M111.16 2v1.8 M123.22 144.4v-1.8 M123.22 2v1.8 M135.28 144.4v-1.8 M135.28 2v1.8 M147.34 144.4v-1.8 M147.34 2v1.8 M159.4 144.4v-3.1 M159.4 2v3.1 M171.46 144.4v-1.8 M171.46 2v1.8 M183.52 144.4v-1.8 M183.52 2v1.8 M195.58 144.4v-1.8 M195.58 2v1.8 M207.64 144.4v-1.8 M207.64 2v1.8 M219.7 144.4v-3.1 M219.7 2v3.1 M31.1 140.92h1.8 M222.4 140.92h-1.8 M31.1 135.6h3.1 M222.4 135.6h-3.1 M31.1 130.28h1.8 M222.4 130.28h-1.8 M31.1 124.96h1.8 M222.4 124.96h-1.8 M31.1 119.64h1.8 M222.4 119.64h-1.8 M31.1 114.32h3.1 M222.4 114.32h-3.1 M31.1 109h1.8 M222.4 109h-1.8 M31.1 103.68h1.8 M222.4 103.68h-1.8 M31.1 98.36h1.8 M222.4 98.36h-1.8 M31.1 93.04h3.1 M222.4 93.04h-3.1 M31.1 87.72h1.8 M222.4 87.72h-1.8 M31.1 82.4h1.8 M222.4 82.4h-1.8 M31.1 77.08h1.8 M222.4 77.08h-1.8 M31.1 71.76h3.1 M222.4 71.76h-3.1 M31.1 66.44h1.8 M222.4 66.44h-1.8 M31.1 61.12h1.8 M222.4 61.12h-1.8 M31.1 55.8h1.8 M222.4 55.8h-1.8 M31.1 50.48h3.1 M222.4 50.48h-3.1 M31.1 45.16h1.8 M222.4 45.16h-1.8 M31.1 39.84h1.8 M222.4 39.84h-1.8 M31.1 34.52h1.8 M222.4 34.52h-1.8 M31.1 29.2h3.1 M222.4 29.2h-3.1 M31.1 23.88h1.8 M222.4 23.88h-1.8 M31.1 18.56h1.8 M222.4 18.56h-1.8 M31.1 13.24h1.8 M222.4 13.24h-1.8 M31.1 7.92h3.1 M222.4 7.92h-3.1" stroke="#000" stroke-width="0.5" fill="none"/>
<rect x="38.8" y="61.12" width="24.12" height="42.56" fill="none" stroke="#000" stroke-width="0.9"/>
<path d="M38.8 61.12L145.1 12.05 M38.8 103.68L145.1 139.5" stroke="#000" stroke-width="1.1" fill="none"/>
<rect x="31.1" y="2" width="191.3" height="142.4" fill="none" stroke="#000" stroke-width="2.3"/>
<clipPath id="ci2"><rect x="145.1" y="12.05" width="72.3" height="127.45"/></clipPath>
<g clip-path="url(#ci2)">
<path d="M145.1 121.02 L145.46 118.35 L145.64 115.6 L145.82 109.21 L146 101.26 L146.18 95.58 L146.54 84.8 L146.9 76.66 L147.09 74.18 L147.26 72.6 L147.62 69.91 L147.98 67.8 L148.35 66.11 L148.71 64.65 L149.07 63.25 L149.43 61.72 L149.62 60.8 L149.79 59.9 L150.15 57.82 L150.51 55.62 L150.87 53.46 L151.23 51.5 L151.59 49.87 L151.95 48.73 L152.15 48.37 L152.31 48.17 L152.67 47.75 L153.03 47.42 L153.39 47.19 L153.75 47.1 L153.78 47.1 L154.12 47.1 L154.48 47.12 L154.84 47.15 L155.2 47.19 L155.56 47.24 L155.92 47.29 L156.28 47.35 L156.64 47.41 L157 47.47 L157.36 47.54 L157.72 47.6 L158.08 47.65 L158.44 47.71 L158.66 47.74 L158.8 47.76 L159.16 47.81 L159.52 47.86 L159.88 47.92 L160.25 47.98 L160.61 48.04 L160.97 48.1 L161.33 48.16 L161.69 48.21 L162.05 48.26 L162.41 48.3 L162.77 48.33 L163.13 48.36 L163.49 48.37 L163.72 48.37 L163.85 48.37 L164.21 48.36 L164.57 48.34 L164.93 48.3 L165.29 48.25 L165.65 48.19 L166.02 48.12 L166.38 48.04 L166.74 47.96 L167.1 47.86 L167.46 47.76 L167.82 47.65 L168.18 47.54 L168.54 47.42 L168.9 47.3 L169.26 47.18 L169.62 47.06 L169.98 46.93 L170.34 46.8 L170.41 46.78 L170.7 46.67 L171.06 46.51 L171.42 46.33 L171.79 46.14 L172.15 45.93 L172.51 45.7 L172.87 45.45 L173.23 45.2 L173.59 44.93 L173.95 44.65 L174.31 44.37 L174.67 44.07 L175.03 43.77 L175.39 43.47 L175.75 43.16 L176.11 42.85 L176.47 42.55 L176.83 42.24 L177.19 41.94 L177.55 41.64 L177.92 41.35 L178.28 41.06 L178.64 40.79 L178.72 40.73 L179 40.52 L179.36 40.25 L179.72 39.98 L180.08 39.71 L180.44 39.44 L180.8 39.16 L181.16 38.88 L181.25 38.81 L181.52 38.6 L181.88 38.31 L182.24 38.03 L182.6 37.74 L182.96 37.44 L183.32 37.15 L183.69 36.85 L184.05 36.55 L184.41 36.25 L184.77 35.95 L185.13 35.65 L185.49 35.35 L185.85 35.04 L186.21 34.74 L186.57 34.43 L186.93 34.12 L187.03 34.04 L187.29 33.82 L187.65 33.51 L188.01 33.19 L188.37 32.88 L188.73 32.56 L189.09 32.24 L189.45 31.92 L189.82 31.6 L190.18 31.27 L190.54 30.95 L190.9 30.62 L191.26 30.3 L191.62 29.97 L191.98 29.65 L192.34 29.33 L192.7 29 L193.06 28.68 L193.42 28.36 L193.78 28.04 L194.14 27.72 L194.5 27.4 L194.86 27.09 L195.22 26.77 L195.59 26.47 L195.95 26.16 L196.31 25.86 L196.43 25.75 L196.67 25.56 L197.03 25.25 L197.39 24.94 L197.75 24.63 L198.11 24.32 L198.47 24 L198.83 23.69 L199.19 23.37 L199.55 23.05 L199.91 22.74 L200.27 22.42 L200.63 22.11 L200.99 21.8 L201.36 21.5 L201.72 21.19 L202.08 20.89 L202.44 20.6 L202.8 20.31 L203.16 20.03 L203.52 19.75 L203.88 19.49 L204.24 19.23 L204.6 18.98 L204.96 18.73 L205.32 18.5 L205.68 18.28 L206.04 18.07 L206.4 17.87 L206.56 17.79 L206.76 17.68 L207.12 17.49 L207.49 17.32 L207.85 17.15 L208.21 16.98 L208.57 16.82 L208.93 16.66 L209.29 16.51 L209.65 16.36 L210.01 16.22 L210.37 16.08 L210.73 15.94 L211.09 15.8 L211.45 15.67 L211.81 15.54 L212.17 15.41 L212.53 15.28 L212.89 15.15 L213.26 15.03 L213.62 14.91 L213.98 14.78 L214.34 14.66 L214.51 14.6 L214.7 14.54 L215.06 14.43 L215.42 14.34 L215.78 14.25 L216.14 14.16 L216.5 14.06 L216.86 13.95 L217.22 13.81 L217.58 13.64" fill="none" stroke="#0C5DA5" stroke-width="1.7" stroke-linejoin="round"/>
<path d="M145.1 121.02 L145.46 118.35 L145.64 115.6 L145.82 109.21 L146 101.26 L146.18 95.58 L146.54 84.8 L146.9 76.66 L147.09 74.18 L147.26 72.6 L147.62 69.91 L147.98 67.8 L148.35 66.11 L148.71 64.65 L149.07 63.25 L149.43 61.72 L149.62 60.8 L149.79 59.9 L150.15 57.82 L150.51 55.62 L150.87 53.46 L151.23 51.5 L151.59 49.87 L151.95 48.73 L152.15 48.37 L152.31 48.17 L152.67 47.75 L153.03 47.42 L153.39 47.19 L153.75 47.1 L153.78 47.1 L154.12 47.1 L154.48 47.12 L154.84 47.15 L155.2 47.19 L155.56 47.24 L155.92 47.29 L156.28 47.35 L156.64 47.41 L157 47.47 L157.36 47.54 L157.72 47.6 L158.08 47.65 L158.44 47.71 L158.66 47.74 L158.8 47.76 L159.16 47.81 L159.52 47.86 L159.88 47.92 L160.25 47.98 L160.61 48.04 L160.97 48.1 L161.33 48.16 L161.69 48.21 L162.05 48.26 L162.41 48.3 L162.77 48.33 L163.13 48.36 L163.49 48.37 L163.72 48.37 L163.85 48.37 L164.21 48.36 L164.57 48.34 L164.93 48.3 L165.29 48.25 L165.65 48.19 L166.02 48.12 L166.38 48.04 L166.74 47.96 L167.1 47.86 L167.46 47.76 L167.82 47.65 L168.18 47.54 L168.54 47.42 L168.9 47.3 L169.26 47.18 L169.62 47.06 L169.98 46.93 L170.34 46.8 L170.41 46.78 L170.7 46.67 L171.06 46.51 L171.42 46.33 L171.79 46.14 L172.15 45.93 L172.51 45.7 L172.87 45.45 L173.23 45.2 L173.59 44.93 L173.95 44.65 L174.31 44.37 L174.67 44.07 L175.03 43.77 L175.39 43.47 L175.75 43.16 L176.11 42.85 L176.47 42.55 L176.83 42.24 L177.19 41.94 L177.55 41.64 L177.92 41.35 L178.28 41.06 L178.64 40.79 L178.72 40.73 L179 40.52 L179.36 40.25 L179.72 39.98 L180.08 39.71 L180.44 39.44 L180.8 39.16 L181.16 38.88 L181.25 38.81 L181.52 38.6 L181.88 38.31 L182.24 38.03 L182.6 37.74 L182.96 37.44 L183.32 37.15 L183.69 36.85 L184.05 36.55 L184.41 36.25 L184.77 35.95 L185.13 35.65 L185.49 35.35 L185.85 35.04 L186.21 34.74 L186.57 34.43 L186.93 34.12 L187.03 34.04 L187.29 33.82 L187.65 33.51 L188.01 33.19 L188.37 32.88 L188.73 32.56 L189.09 32.24 L189.45 31.92 L189.82 31.6 L190.18 31.27 L190.54 30.95 L190.9 30.62 L191.26 30.3 L191.62 29.97 L191.98 29.65 L192.34 29.33 L192.7 29 L193.06 28.68 L193.42 28.36 L193.78 28.04 L194.14 27.72 L194.5 27.4 L194.86 27.09 L195.22 26.77 L195.59 26.47 L195.95 26.16 L196.31 25.86 L196.43 25.75 L196.67 25.56 L197.03 25.25 L197.39 24.94 L197.75 24.63 L198.11 24.32 L198.47 24 L198.83 23.69 L199.19 23.37 L199.55 23.05 L199.91 22.74 L200.27 22.42 L200.63 22.11 L200.99 21.8 L201.36 21.5 L201.72 21.19 L202.08 20.89 L202.44 20.6 L202.8 20.31 L203.16 20.03 L203.52 19.75 L203.88 19.49 L204.24 19.23 L204.6 18.98 L204.96 18.73 L205.32 18.5 L205.68 18.28 L206.04 18.07 L206.4 17.87 L206.56 17.79 L206.76 17.68 L207.12 17.49 L207.49 17.32 L207.85 17.15 L208.21 16.98 L208.57 16.82 L208.93 16.66 L209.29 16.51 L209.65 16.36 L210.01 16.22 L210.37 16.08 L210.73 15.94 L211.09 15.8 L211.45 15.67 L211.81 15.54 L212.17 15.41 L212.53 15.28 L212.89 15.15 L213.26 15.03 L213.62 14.91 L213.98 14.78 L214.34 14.66 L214.51 14.6 L214.7 14.54 L215.06 14.43 L215.42 14.34 L215.78 14.25 L216.14 14.16 L216.5 14.06 L216.86 13.95 L217.22 13.81 L217.58 13.64" fill="none" stroke="#00B945" stroke-width="1.85" stroke-dasharray="5.9 2.3" stroke-linejoin="round"/>
<path d="M145.1 70.68 L145.46 40.73 L145.46 40.73 L145.8 40.57 L146.14 40.14 L146.49 39.5 L146.83 38.71 L147.17 37.81 L147.27 37.54 L147.51 36.72 L147.85 35.1 L148.19 33.09 L148.53 30.85 L148.53 30.85 L148.9 32.18 L149.26 33.28 L149.62 34.08 L149.8 34.35 L149.98 34.57 L150.34 34.88 L150.52 34.99 L150.7 35.08 L151.06 35.23 L151.43 35.36 L151.79 35.48 L152.15 35.58 L152.51 35.67 L152.87 35.75 L153.23 35.83 L153.6 35.91 L153.78 35.95 L153.96 35.99 L154.32 36.07 L154.68 36.15 L155.04 36.23 L155.4 36.31 L155.76 36.39 L156.13 36.47 L156.49 36.55 L156.85 36.63 L157.21 36.71 L157.57 36.78 L157.93 36.86 L158.29 36.93 L158.66 37 L159.02 37.06 L159.38 37.13 L159.74 37.19 L160.1 37.24 L160.46 37.3 L160.83 37.34 L161.19 37.39 L161.55 37.43 L161.91 37.46 L162.27 37.49 L162.63 37.51 L162.99 37.53 L163.36 37.54 L163.72 37.54 L164.08 37.53 L164.44 37.49 L164.8 37.42 L165.16 37.34 L165.52 37.24 L165.89 37.11 L166.25 36.98 L166.61 36.83 L166.97 36.67 L167.33 36.5 L167.69 36.32 L168.06 36.14 L168.42 35.95 L168.78 35.77 L169.14 35.59 L169.5 35.41 L169.86 35.24 L170.22 35.07 L170.41 34.99 L170.59 34.91 L170.95 34.75 L171.31 34.58 L171.67 34.41 L172.03 34.23 L172.39 34.05 L172.75 33.87 L173.12 33.68 L173.48 33.49 L173.84 33.3 L174.2 33.1 L174.56 32.91 L174.92 32.72 L175.29 32.52 L175.65 32.33 L176.01 32.14 L176.37 31.96 L176.73 31.77 L177.09 31.59 L177.45 31.42 L177.82 31.25 L178.18 31.08 L178.54 30.93 L178.72 30.85 L178.9 30.78 L179.26 30.64 L179.62 30.51 L179.98 30.39 L180.35 30.26 L180.71 30.13 L181.07 29.98 L181.25 29.89 L181.43 29.8 L181.79 29.61 L182.15 29.4 L182.52 29.18 L182.88 28.93 L183.24 28.68 L183.6 28.42 L183.96 28.14 L184.32 27.87 L184.68 27.58 L185.05 27.29 L185.41 27.01 L185.77 26.72 L186.13 26.44 L186.49 26.16 L186.85 25.88 L187.03 25.75 L187.21 25.62 L187.58 25.35 L187.94 25.09 L188.3 24.82 L188.66 24.56 L189.02 24.29 L189.38 24.02 L189.75 23.75 L190.11 23.49 L190.47 23.22 L190.83 22.95 L191.19 22.68 L191.55 22.41 L191.91 22.14 L192.28 21.86 L192.64 21.59 L193 21.32 L193.36 21.05 L193.72 20.78 L194.08 20.51 L194.44 20.24 L194.81 19.96 L195.17 19.69 L195.53 19.42 L195.89 19.15 L196.25 18.88 L196.43 18.74 L196.61 18.6 L196.98 18.33 L197.34 18.04 L197.7 17.75 L198.06 17.46 L198.42 17.16 L198.78 16.86 L199.14 16.55 L199.51 16.25 L199.87 15.94 L200.23 15.63 L200.59 15.33 L200.95 15.02 L201.31 14.72 L201.67 14.42 L202.04 14.13 L202.4 13.84 L202.76 13.55 L203.12 13.28 L203.48 13.01 L203.84 12.74 L204.21 12.49 L204.57 12.24 L204.93 12.01 L205.29 11.78 L205.65 11.57 L206.01 11.37 L206.37 11.18 L206.56 11.09 L206.74 11.01 L207.1 10.85 L207.46 10.7 L207.82 10.55 L208.18 10.42 L208.54 10.3 L208.9 10.18 L209.27 10.07 L209.63 9.96 L209.99 9.86 L210.35 9.76 L210.71 9.66 L211.07 9.57 L211.44 9.48 L211.8 9.39 L212.16 9.29 L212.52 9.2 L212.88 9.1 L213.24 9.01 L213.6 8.9 L213.97 8.79 L214.33 8.68 L214.69 8.56 L215.05 8.43 L215.41 8.3 L215.77 8.15 L216.13 8 L216.5 7.84 L216.86 7.66 L217.22 7.47 L217.58 7.27" fill="none" stroke="#FF9500" stroke-width="1.7" stroke-dasharray="9.6 2.4 1.5 2.4" stroke-linejoin="round"/>
<path d="M145.1 241.46 L147.45 241.46 L147.54 107.64 L147.81 105.41 L147.9 105.1 L148.25 104.01 L148.61 103.18 L148.96 102.57 L149.32 102.15 L149.62 101.9 L149.68 101.86 L150.03 101.66 L150.39 101.53 L150.75 101.43 L151.1 101.36 L151.46 101.28 L151.81 101.19 L152.17 101.06 L152.53 100.88 L152.87 100.63 L152.88 100.62 L153.24 99.63 L153.6 98.08 L153.78 76.41 L154.14 76.4 L154.5 76.35 L154.86 76.28 L155.22 76.18 L155.58 76.06 L155.94 75.91 L156.31 75.74 L156.67 75.56 L156.85 75.46 L157.03 75.32 L157.39 74.85 L157.75 74.22 L158.11 73.54 L158.29 62.39 L158.66 62.03 L159.02 61.67 L159.38 61.31 L159.74 60.96 L160.1 60.62 L160.46 60.29 L160.82 59.98 L161.18 59.68 L161.54 59.4 L161.9 59.14 L162.26 58.9 L162.27 58.89 L162.62 58.67 L162.98 58.46 L163.34 58.27 L163.7 58.08 L164.06 57.9 L164.42 57.74 L164.78 57.58 L165.14 57.42 L165.5 57.27 L165.86 57.12 L166.22 56.98 L166.58 56.84 L166.94 56.69 L167.31 56.55 L167.67 56.4 L168.03 56.25 L168.39 56.09 L168.75 55.93 L169.11 55.76 L169.47 55.58 L169.83 55.39 L170.19 55.19 L170.41 55.06 L170.55 54.98 L170.91 54.75 L171.27 54.51 L171.63 54.26 L171.99 54 L172.35 53.73 L172.71 53.45 L173.07 53.16 L173.43 52.87 L173.79 52.57 L174.15 52.26 L174.51 51.95 L174.87 51.64 L175.23 51.32 L175.59 51.01 L175.95 50.69 L176.32 50.38 L176.68 50.06 L177.04 49.75 L177.4 49.45 L177.76 49.15 L178.12 48.85 L178.48 48.56 L178.72 48.37 L178.84 48.28 L179.2 48.01 L179.56 47.75 L179.92 47.49 L180.28 47.22 L180.64 46.95 L181 46.67 L181.25 46.46 L181.36 46.37 L181.72 46.05 L182.08 45.73 L182.44 45.39 L182.8 45.04 L183.16 44.68 L183.52 44.32 L183.88 43.95 L184.24 43.58 L184.6 43.21 L184.97 42.83 L185.33 42.46 L185.69 42.08 L186.05 41.71 L186.41 41.35 L186.77 40.99 L187.03 40.73 L187.13 40.64 L187.49 40.29 L187.85 39.94 L188.21 39.59 L188.57 39.24 L188.93 38.89 L189.29 38.55 L189.65 38.2 L190.01 37.86 L190.37 37.51 L190.73 37.17 L191.09 36.83 L191.45 36.48 L191.81 36.14 L192.17 35.8 L192.53 35.46 L192.89 35.12 L193.25 34.78 L193.62 34.44 L193.98 34.1 L194.34 33.76 L194.7 33.43 L195.06 33.09 L195.42 32.75 L195.78 32.42 L196.14 32.08 L196.43 31.8 L196.5 31.74 L196.86 31.4 L197.22 31.06 L197.58 30.71 L197.94 30.36 L198.3 30 L198.66 29.64 L199.02 29.28 L199.38 28.92 L199.74 28.56 L200.1 28.2 L200.46 27.84 L200.82 27.48 L201.18 27.12 L201.54 26.77 L201.9 26.42 L202.26 26.08 L202.63 25.74 L202.99 25.4 L203.35 25.08 L203.71 24.76 L204.07 24.44 L204.43 24.14 L204.79 23.85 L205.15 23.56 L205.51 23.29 L205.87 23.03 L206.23 22.78 L206.56 22.56 L206.59 22.54 L206.95 22.32 L207.31 22.1 L207.67 21.89 L208.03 21.68 L208.39 21.49 L208.75 21.29 L209.11 21.11 L209.47 20.93 L209.83 20.75 L210.19 20.58 L210.55 20.41 L210.91 20.24 L211.28 20.08 L211.64 19.92 L212 19.76 L212.36 19.6 L212.72 19.45 L213.08 19.29 L213.44 19.13 L213.8 18.97 L214.16 18.81 L214.52 18.65 L214.88 18.49 L215.24 18.32 L215.6 18.16 L215.96 17.98 L216.32 17.81 L216.68 17.62 L217.04 17.44 L217.4 17.25" fill="none" stroke="#FF2C00" stroke-width="1.65" stroke-dasharray="1.6 2.35" stroke-linejoin="round"/>
</g>
<rect x="145.1" y="12.05" width="72.3" height="127.45" fill="none" stroke="#000" stroke-width="2.3"/>
<text x="27.3" y="139.4" font-size="9.3" text-anchor="end" textLength="4.6" lengthAdjust="spacingAndGlyphs">2</text>
<text x="27.3" y="118.12" font-size="9.3" text-anchor="end" textLength="4.6" lengthAdjust="spacingAndGlyphs">4</text>
<text x="27.3" y="96.84" font-size="9.3" text-anchor="end" textLength="4.6" lengthAdjust="spacingAndGlyphs">6</text>
<text x="27.3" y="75.56" font-size="9.3" text-anchor="end" textLength="4.6" lengthAdjust="spacingAndGlyphs">8</text>
<text x="27.3" y="54.28" font-size="9.3" text-anchor="end" textLength="9.2" lengthAdjust="spacingAndGlyphs">10</text>
<text x="27.3" y="33" font-size="9.3" text-anchor="end" textLength="9.2" lengthAdjust="spacingAndGlyphs">12</text>
<text x="27.3" y="11.72" font-size="9.3" text-anchor="end" textLength="9.2" lengthAdjust="spacingAndGlyphs">14</text>
<text x="38.6" y="155" font-size="9.3" text-anchor="middle" textLength="4.7" lengthAdjust="spacingAndGlyphs">0</text>
<text x="98.9" y="155" font-size="9.3" text-anchor="middle" textLength="18.8" lengthAdjust="spacingAndGlyphs">1000</text>
<text x="159.2" y="155" font-size="9.3" text-anchor="middle" textLength="18.8" lengthAdjust="spacingAndGlyphs">2000</text>
<text x="219.5" y="155" font-size="9.3" text-anchor="middle" textLength="18.8" lengthAdjust="spacingAndGlyphs">3000</text>
<text x="126.3" y="169.6" font-size="12.8" text-anchor="middle" textLength="59" lengthAdjust="spacingAndGlyphs">Depth (km)</text>
<g transform="translate(9.6 103.8) rotate(-90)">
<text x="-0.61" y="0" font-size="11.8" text-anchor="start" textLength="15.15" lengthAdjust="spacingAndGlyphs">Vp</text>
<text x="19.19" y="0" font-size="11.8" text-anchor="start" textLength="27.15" lengthAdjust="spacingAndGlyphs">(km.s</text>
<text x="46.7" y="-3" font-size="8.5" text-anchor="start" textLength="10.47" lengthAdjust="spacingAndGlyphs">−1</text>
<text x="56.59" y="0" font-size="11.8" text-anchor="start" textLength="5.25" lengthAdjust="spacingAndGlyphs">)</text>
</g>
<path d="M230.9 14.1H250.9" stroke="#0C5DA5" stroke-width="1.7" stroke-linecap="square" fill="none"/>
<text x="258.46" y="18.3" font-size="9.7" text-anchor="start" textLength="23.63" lengthAdjust="spacingAndGlyphs">Mean</text>
<text x="285.06" y="18.3" font-size="9.7" text-anchor="start" textLength="42.63" lengthAdjust="spacingAndGlyphs">Recovered</text>
<path d="M230.9 27.9H250.9" stroke="#00B945" stroke-width="1.85" stroke-dasharray="5.9 2.3" fill="none"/>
<text x="258.46" y="32.1" font-size="9.7" text-anchor="start" textLength="23.63" lengthAdjust="spacingAndGlyphs">Mean</text>
<text x="285.06" y="32.1" font-size="9.7" text-anchor="start" textLength="50.83" lengthAdjust="spacingAndGlyphs">GLAD-M25</text>
<path d="M230.9 41.7H250.9" stroke="#FF9500" stroke-width="1.7" stroke-dasharray="9.6 2.4 1.5 2.4" fill="none"/>
<text x="258.46" y="45.9" font-size="9.7" text-anchor="start" textLength="19.33" lengthAdjust="spacingAndGlyphs">Max</text>
<text x="280.56" y="45.9" font-size="9.7" text-anchor="start" textLength="50.63" lengthAdjust="spacingAndGlyphs">GLAD-M25</text>
<path d="M230.9 55.4H250.9" stroke="#FF2C00" stroke-width="1.65" stroke-dasharray="1.6 2.35" fill="none"/>
<text x="258.46" y="59.6" font-size="9.7" text-anchor="start" textLength="17.53" lengthAdjust="spacingAndGlyphs">Min</text>
<text x="278.96" y="59.6" font-size="9.7" text-anchor="start" textLength="50.83" lengthAdjust="spacingAndGlyphs">GLAD-M25</text>
</g>
<g>
<text x="36.2" y="195.7" font-size="14.4" text-anchor="start" textLength="17.79" lengthAdjust="spacingAndGlyphs">(a)</text>
<text x="69.9" y="195.7" font-size="14.4" text-anchor="start" textLength="30.39" lengthAdjust="spacingAndGlyphs">Near</text>
<text x="105.7" y="195.7" font-size="14.4" text-anchor="start" textLength="20.19" lengthAdjust="spacingAndGlyphs">the</text>
<text x="131.8" y="195.7" font-size="14.4" text-anchor="start" textLength="75.19" lengthAdjust="spacingAndGlyphs">upper-lower</text>
<text x="211.7" y="195.7" font-size="14.4" text-anchor="start" textLength="44.39" lengthAdjust="spacingAndGlyphs">mantle</text>
<text x="114.9" y="213.7" font-size="14.4" text-anchor="start" textLength="61.29" lengthAdjust="spacingAndGlyphs">boundary</text>
<text x="370.7" y="195.7" font-size="14.4" text-anchor="start" textLength="18.19" lengthAdjust="spacingAndGlyphs">(b)</text>
<text x="404.2" y="195.7" font-size="14.4" text-anchor="start" textLength="30.29" lengthAdjust="spacingAndGlyphs">Near</text>
<text x="440.2" y="195.7" font-size="14.4" text-anchor="start" textLength="37.29" lengthAdjust="spacingAndGlyphs">upper</text>
<text x="482.4" y="195.7" font-size="14.4" text-anchor="start" textLength="44.19" lengthAdjust="spacingAndGlyphs">mantle</text>
<text x="530.6" y="195.7" font-size="14.4" text-anchor="start" textLength="12.49" lengthAdjust="spacingAndGlyphs">to</text>
<text x="549.2" y="195.7" font-size="14.4" text-anchor="start" textLength="61.59" lengthAdjust="spacingAndGlyphs">transition</text>
<text x="442.7" y="213.7" font-size="14.4" text-anchor="start" textLength="28.79" lengthAdjust="spacingAndGlyphs">zone</text>
<text x="476.7" y="213.7" font-size="14.4" text-anchor="start" textLength="61.09" lengthAdjust="spacingAndGlyphs">boundary</text>
<text x="248.8" y="418.6" font-size="14.4" text-anchor="start" textLength="17.69" lengthAdjust="spacingAndGlyphs">(c)</text>
<text x="281.6" y="418.6" font-size="14.4" text-anchor="start" textLength="29.69" lengthAdjust="spacingAndGlyphs">Near</text>
<text x="317.8" y="418.6" font-size="14.4" text-anchor="start" textLength="19.69" lengthAdjust="spacingAndGlyphs">the</text>
<text x="343.5" y="418.6" font-size="14.4" text-anchor="start" textLength="36.49" lengthAdjust="spacingAndGlyphs">Moho</text>
</g>
</svg>
</body>
</html>
